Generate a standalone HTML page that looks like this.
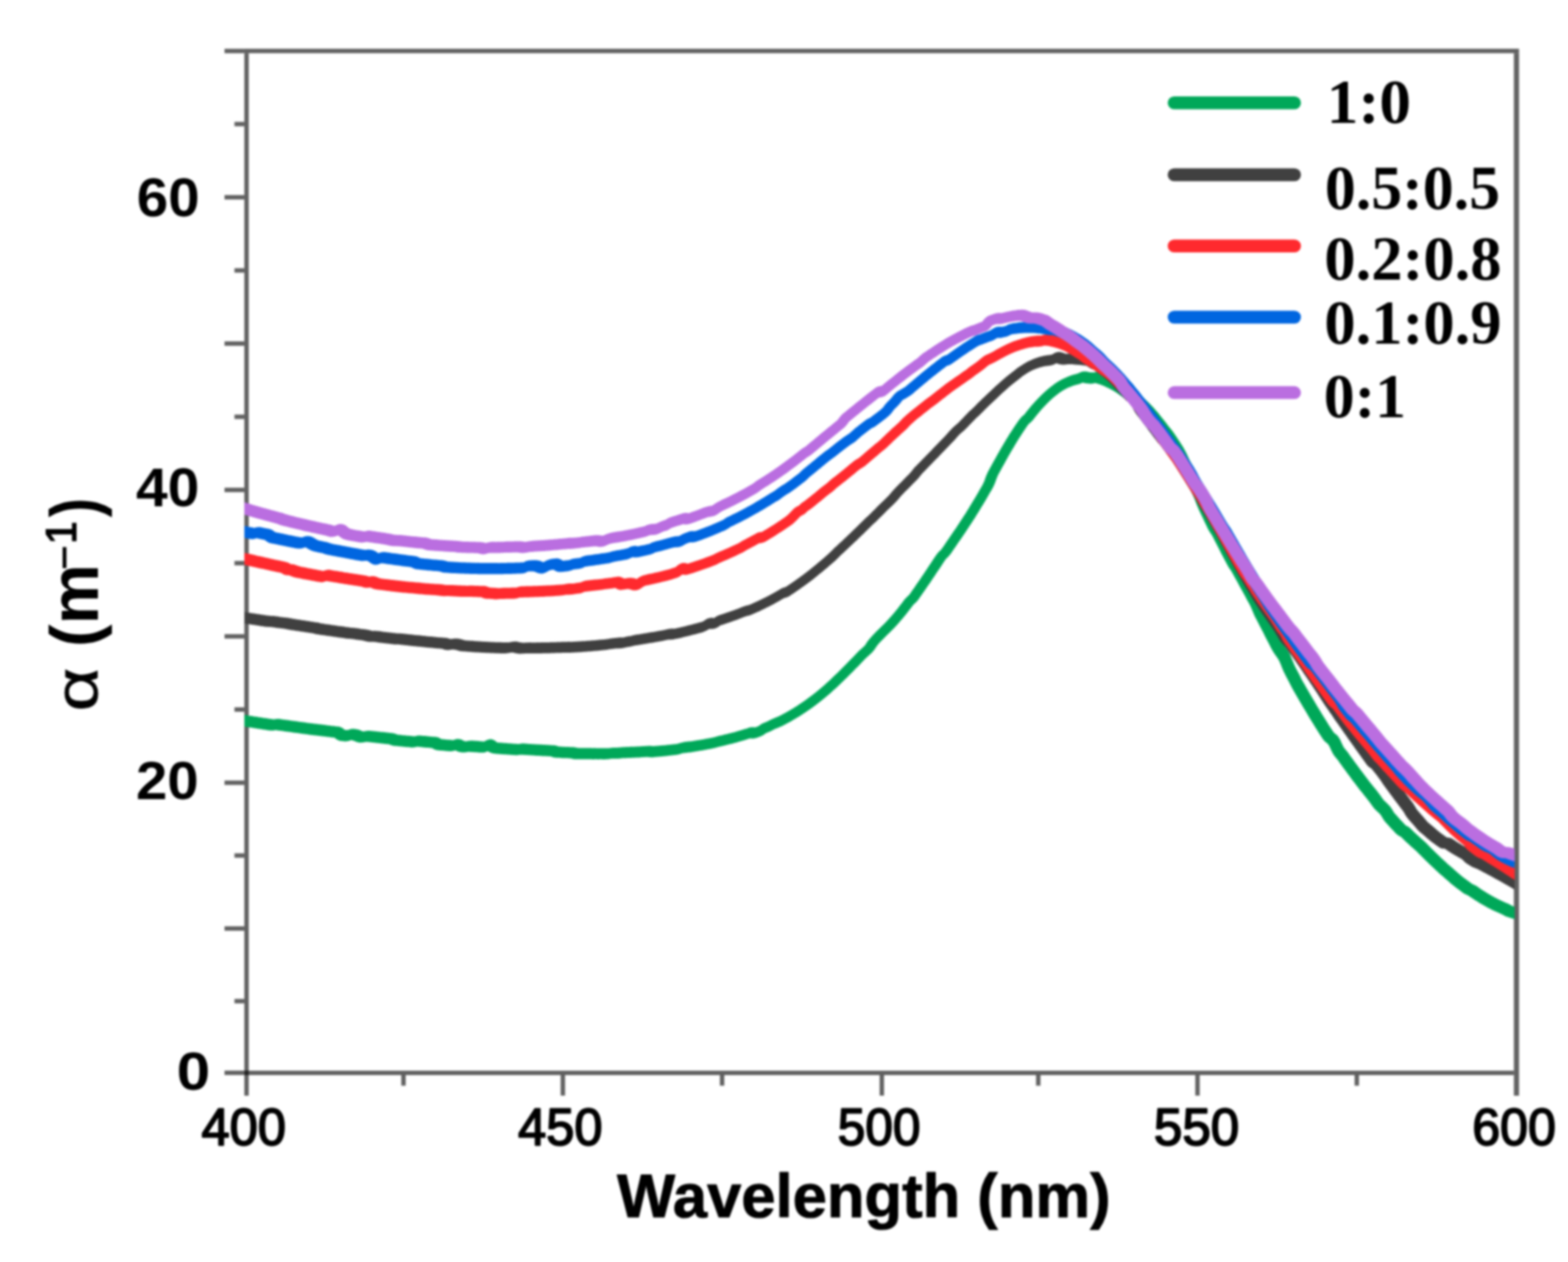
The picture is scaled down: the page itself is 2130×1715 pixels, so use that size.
<!DOCTYPE html>
<html lang="en"><head><meta charset="utf-8"><title>Absorption coefficient spectra</title>
<style>
html,body{margin:0;padding:0;background:#fff;}
body{width:2130px;height:1715px;overflow:hidden;}
svg{display:block;}
text{fill:#000;}
</style></head><body>
<svg xmlns="http://www.w3.org/2000/svg" width="2130" height="1715" viewBox="0 0 2130 1715" role="img" aria-label="Absorption coefficient versus wavelength">
<defs><clipPath id="plot"><rect x="332" y="60" width="1725.5" height="1400"/></clipPath><filter id="soft" x="-2%" y="-2%" width="104%" height="104%" color-interpolation-filters="sRGB"><feGaussianBlur stdDeviation="1.5"/></filter></defs>
<rect width="2130" height="1715" fill="#fff"/>
<g filter="url(#soft)">
<g stroke="#000" stroke-opacity="0.62" stroke-width="6.0" fill="none" stroke-linecap="butt">
<path d="M331.9,69.3 H2063.5"/>
<path d="M331.9,1457.9 H2056.5"/>
<path d="M334.9,72.3 V1488.9"/>
<path stroke-width="7" d="M2060.0,72.3 V1488.9"/>
<path d="M305,69.3 H331.9"/>
<path d="M305,1457.9 H331.9"/>
<path d="M318.5,168.6 H331.9"/>
<path d="M305,268.1 H331.9"/>
<path d="M318.5,367.5 H331.9"/>
<path d="M305,466.9 H331.9"/>
<path d="M318.5,566.4 H331.9"/>
<path d="M305,665.8 H331.9"/>
<path d="M318.5,765.3 H331.9"/>
<path d="M305,864.8 H331.9"/>
<path d="M318.5,964.2 H331.9"/>
<path d="M305,1063.7 H331.9"/>
<path d="M318.5,1162.6 H331.9"/>
<path d="M305,1261.8 H331.9"/>
<path d="M318.5,1360.5 H331.9"/>
<path d="M548.1,1460.9 V1475.4"/>
<path d="M764.6,1460.9 V1488.9"/>
<path d="M980.9,1460.9 V1475.4"/>
<path d="M1197.9,1460.9 V1488.9"/>
<path d="M1410.4,1460.9 V1475.4"/>
<path d="M1626.7,1460.9 V1488.9"/>
<path d="M1843.1,1460.9 V1475.4"/>
</g>
<g clip-path="url(#plot)" fill="none" stroke-linejoin="round" stroke-linecap="butt">
<path stroke="#00a859" stroke-width="13.6" transform="matrix(1.1553 -0.1303 -0.1303 1.1094 0 0)" d="M386.8,927.5 L388.8,928.1 L390.7,928.6 L392.7,929.1 L394.7,929.7 L396.6,930.2 L398.6,930.7 L400.6,931.3 L402.5,931.8 L404.5,932.3 L406.5,932.9 L408.4,933.4 L410.4,933.9 L412.3,934.5 L414.3,935.0 L416.3,935.5 L418.2,936.0 L420.2,936.6 L422.2,937.1 L424.1,937.6 L426.1,938.1 L428.0,938.3 L429.9,938.0 L431.8,938.1 L433.8,938.7 L435.7,939.2 L437.7,939.7 L439.7,940.2 L441.6,940.7 L443.6,941.2 L445.5,941.7 L447.5,942.2 L449.5,942.7 L451.4,943.2 L453.4,943.7 L455.3,944.2 L457.3,944.7 L459.3,945.2 L461.2,945.7 L463.2,946.2 L465.1,946.7 L467.1,947.2 L469.1,947.7 L471.0,948.2 L473.0,948.7 L474.9,949.2 L476.9,949.6 L478.9,950.1 L480.8,950.5 L482.8,951.0 L484.7,951.5 L486.7,951.9 L488.6,952.4 L490.6,952.9 L492.6,953.4 L494.5,953.9 L496.5,954.3 L498.4,954.8 L500.4,955.3 L502.3,955.7 L504.3,956.2 L506.3,957.4 L508.5,959.4 L510.5,960.6 L512.5,961.1 L514.4,961.5 L516.4,962.0 L518.3,961.8 L520.1,961.1 L522.0,960.9 L523.9,961.4 L525.9,962.0 L527.9,962.7 L529.9,963.8 L531.9,964.9 L533.9,965.6 L535.8,965.7 L537.7,965.5 L539.6,965.4 L541.5,965.6 L543.5,965.9 L545.4,966.3 L547.4,966.8 L549.3,967.2 L551.3,967.7 L553.2,968.1 L555.2,968.6 L557.2,969.0 L559.1,969.4 L561.1,969.9 L563.0,970.3 L565.0,970.8 L566.9,971.2 L568.9,971.6 L570.9,972.4 L572.9,973.4 L574.9,974.2 L576.8,974.6 L578.8,975.0 L580.7,975.5 L582.7,975.9 L584.6,976.3 L586.6,976.8 L588.5,977.2 L590.5,977.6 L592.4,978.0 L594.4,978.4 L596.4,978.9 L598.3,978.9 L600.1,978.5 L602.0,978.5 L604.0,978.9 L605.9,979.3 L607.9,979.7 L609.8,980.1 L611.8,980.6 L613.7,981.0 L615.7,981.4 L617.6,981.8 L619.6,982.2 L621.5,982.6 L623.5,983.5 L625.6,985.0 L627.6,985.9 L629.6,986.3 L631.5,986.7 L633.5,987.1 L635.4,987.5 L637.4,987.9 L639.3,988.3 L641.3,988.7 L643.2,989.0 L645.1,988.9 L646.9,988.4 L648.8,988.2 L650.8,989.0 L652.9,990.4 L654.9,991.3 L656.9,991.9 L658.8,992.3 L660.7,992.3 L662.6,992.0 L664.5,992.0 L666.4,992.4 L668.4,992.8 L670.3,993.1 L672.3,993.5 L674.2,993.9 L676.2,994.3 L678.1,994.7 L680.1,995.0 L682.0,995.1 L683.8,994.5 L685.6,993.4 L687.5,993.1 L689.5,994.3 L691.6,996.2 L693.7,997.4 L695.6,998.0 L697.6,998.5 L699.5,998.8 L701.5,999.2 L703.4,999.6 L705.4,999.9 L707.3,1000.3 L709.3,1000.7 L711.2,1001.0 L713.1,1001.4 L715.1,1001.8 L717.0,1002.1 L719.0,1002.5 L720.9,1002.9 L722.8,1003.0 L724.7,1002.8 L726.6,1002.9 L728.6,1003.3 L730.5,1003.6 L732.5,1004.0 L734.4,1004.3 L736.4,1004.7 L738.3,1005.0 L740.3,1005.4 L742.2,1005.7 L744.1,1006.1 L746.1,1006.4 L748.0,1006.7 L750.0,1007.1 L751.9,1007.4 L753.9,1007.8 L755.8,1008.1 L757.7,1008.4 L759.7,1008.8 L761.6,1009.1 L763.6,1009.4 L765.5,1010.1 L767.6,1011.1 L769.5,1011.7 L771.5,1012.0 L773.4,1012.3 L775.4,1012.7 L777.3,1013.0 L779.2,1013.3 L781.2,1013.6 L783.1,1013.9 L785.0,1014.2 L787.0,1014.5 L789.0,1015.1 L790.9,1015.8 L792.9,1016.3 L794.8,1016.5 L796.8,1016.7 L798.7,1016.9 L800.6,1017.1 L802.5,1017.3 L804.5,1017.6 L806.4,1017.9 L808.3,1018.1 L810.3,1018.4 L812.2,1018.6 L814.1,1018.9 L816.1,1019.1 L818.0,1019.3 L819.9,1019.6 L821.9,1019.8 L823.8,1020.0 L825.7,1020.3 L827.6,1020.5 L829.6,1020.7 L831.5,1020.8 L833.4,1020.7 L835.3,1020.7 L837.2,1020.9 L839.1,1021.1 L841.1,1021.3 L843.0,1021.5 L844.9,1021.5 L846.8,1021.5 L848.7,1021.6 L850.6,1021.7 L852.6,1021.9 L854.5,1022.0 L856.4,1022.2 L858.3,1022.3 L860.2,1022.5 L862.2,1022.6 L864.1,1022.7 L866.0,1022.9 L867.9,1023.0 L869.8,1023.1 L871.8,1023.2 L873.7,1023.3 L875.6,1023.4 L877.5,1023.5 L879.4,1023.8 L881.4,1024.3 L883.3,1024.6 L885.2,1024.6 L887.2,1024.7 L889.1,1024.7 L891.0,1024.8 L892.9,1024.8 L894.8,1024.9 L896.7,1024.9 L898.6,1024.9 L900.5,1025.0 L902.4,1025.0 L904.3,1025.0 L906.2,1025.0 L908.1,1025.0 L910.0,1025.0 L911.9,1024.9 L913.8,1024.7 L915.7,1024.3 L917.5,1023.9 L919.4,1023.7 L921.3,1023.7 L923.2,1023.7 L925.1,1023.7 L927.0,1023.8 L928.9,1023.7 L930.8,1023.6 L932.7,1023.5 L934.6,1023.4 L936.5,1023.3 L938.4,1023.2 L940.3,1023.1 L942.2,1023.0 L944.1,1022.8 L946.0,1022.7 L947.8,1022.5 L949.7,1022.4 L951.6,1022.2 L953.5,1022.0 L955.4,1021.8 L957.3,1021.5 L959.1,1021.1 L961.0,1020.8 L962.9,1020.6 L964.7,1020.4 L966.6,1020.1 L968.5,1019.9 L970.4,1019.6 L972.2,1019.3 L974.1,1019.1 L976.0,1018.8 L977.9,1018.5 L979.7,1018.2 L981.6,1017.8 L983.5,1017.5 L985.3,1017.1 L987.2,1016.8 L989.0,1016.4 L990.9,1016.0 L992.8,1015.6 L994.6,1015.2 L996.5,1014.7 L998.4,1014.8 L1000.4,1015.4 L1002.3,1015.5 L1004.1,1015.0 L1006.0,1014.5 L1007.8,1013.9 L1009.6,1013.1 L1011.4,1011.8 L1013.2,1010.9 L1015.0,1010.3 L1016.8,1009.7 L1018.7,1009.0 L1020.5,1008.2 L1022.3,1007.4 L1024.1,1006.7 L1026.0,1006.1 L1027.8,1005.5 L1029.6,1004.9 L1031.5,1004.2 L1033.3,1003.4 L1035.1,1002.6 L1036.9,1001.7 L1038.7,1000.9 L1040.5,1000.0 L1042.3,999.0 L1044.1,998.1 L1045.9,997.1 L1047.7,996.1 L1049.5,995.1 L1051.3,994.1 L1053.1,993.0 L1054.8,991.9 L1056.6,990.8 L1058.4,989.7 L1060.2,988.5 L1061.9,987.3 L1063.7,986.1 L1065.5,984.8 L1067.2,983.5 L1069.0,982.2 L1070.7,980.9 L1072.5,979.5 L1074.2,978.1 L1076.0,976.7 L1077.7,975.2 L1079.4,973.8 L1081.2,972.3 L1082.9,970.7 L1084.6,969.1 L1086.4,967.5 L1088.1,965.9 L1089.8,964.3 L1091.5,962.6 L1093.2,960.9 L1094.9,959.2 L1096.6,957.5 L1098.4,955.7 L1100.1,953.9 L1101.8,952.2 L1103.5,950.4 L1105.2,948.6 L1106.9,946.7 L1108.6,944.9 L1110.3,943.1 L1112.0,941.3 L1113.7,939.4 L1115.4,937.6 L1117.0,935.7 L1118.7,933.9 L1120.5,932.1 L1122.2,930.5 L1123.9,928.9 L1125.6,927.3 L1127.3,925.1 L1128.8,922.2 L1130.5,919.6 L1132.1,917.5 L1133.8,915.5 L1135.5,913.6 L1137.2,911.8 L1138.9,910.0 L1140.6,908.3 L1142.3,906.5 L1144.0,904.8 L1145.7,903.0 L1147.4,901.2 L1149.1,899.3 L1150.8,897.3 L1152.5,895.3 L1154.1,893.2 L1155.8,891.1 L1157.5,888.9 L1159.1,886.7 L1160.8,884.4 L1162.4,882.1 L1164.0,879.7 L1165.7,877.3 L1167.3,874.8 L1169.0,872.9 L1170.7,871.4 L1172.4,869.4 L1174.0,866.8 L1175.6,864.1 L1177.2,861.5 L1178.8,858.8 L1180.4,856.1 L1182.0,853.4 L1183.6,850.7 L1185.2,847.9 L1186.8,845.2 L1188.4,842.4 L1190.0,839.6 L1191.6,836.8 L1193.2,834.0 L1194.8,831.2 L1196.3,828.4 L1197.9,825.7 L1199.5,822.9 L1201.2,820.7 L1202.9,819.2 L1204.6,817.0 L1206.2,814.3 L1207.8,811.6 L1209.4,808.8 L1211.0,806.1 L1212.6,803.4 L1214.2,800.7 L1215.8,798.0 L1217.4,795.3 L1219.0,792.6 L1220.5,789.8 L1222.1,787.0 L1223.7,784.2 L1225.3,781.3 L1226.9,778.4 L1228.5,775.5 L1230.0,772.5 L1231.6,769.5 L1233.1,766.4 L1234.7,763.3 L1236.3,760.2 L1237.8,757.1 L1239.4,753.9 L1240.9,750.7 L1242.4,747.4 L1244.0,744.1 L1245.5,740.7 L1246.9,736.4 L1248.2,730.9 L1249.6,726.5 L1251.1,723.1 L1252.6,719.7 L1254.1,716.3 L1255.7,712.9 L1257.2,709.5 L1258.7,706.1 L1260.2,702.8 L1261.8,699.5 L1263.3,696.3 L1264.9,693.1 L1266.4,689.9 L1268.0,686.9 L1269.5,683.8 L1271.1,680.9 L1272.7,678.0 L1274.3,675.2 L1275.9,672.4 L1277.5,669.7 L1279.1,667.1 L1280.7,665.1 L1282.5,663.7 L1284.2,661.9 L1285.8,659.5 L1287.5,657.2 L1289.1,655.0 L1290.8,652.8 L1292.4,650.7 L1294.1,648.6 L1295.8,646.7 L1297.5,644.7 L1299.2,642.9 L1300.9,641.1 L1302.6,639.4 L1304.3,637.8 L1306.0,636.2 L1307.8,634.7 L1309.5,633.3 L1311.3,632.0 L1313.0,630.7 L1314.8,629.4 L1316.6,628.3 L1318.4,627.3 L1320.2,626.4 L1322.0,625.5 L1323.8,624.8 L1325.6,624.1 L1327.5,623.5 L1329.3,622.9 L1331.2,622.4 L1333.0,622.0 L1334.9,621.7 L1336.7,621.4 L1338.6,621.0 L1340.4,620.4 L1342.3,619.7 L1344.2,619.6 L1346.1,620.2 L1348.1,620.9 L1350.1,621.4 L1352.0,621.8 L1354.0,622.2 L1355.9,622.2 L1357.7,621.9 L1359.7,622.0 L1361.6,622.7 L1363.6,623.4 L1365.6,624.2 L1367.6,625.1 L1369.6,626.1 L1371.7,627.1 L1373.7,628.2 L1375.7,629.4 L1377.8,630.6 L1379.8,631.8 L1381.9,633.1 L1383.9,634.4 L1386.0,635.8 L1388.1,637.3 L1390.1,638.8 L1392.2,640.5 L1394.3,642.2 L1396.4,643.9 L1398.5,645.6 L1400.6,647.3 L1402.7,649.0 L1404.8,650.8 L1406.9,652.6 L1409.0,654.4 L1411.2,656.4 L1413.3,658.4 L1415.4,660.4 L1417.6,662.6 L1419.7,664.8 L1421.9,667.0 L1424.0,669.3 L1426.2,671.7 L1428.4,674.2 L1430.6,676.7 L1432.8,679.3 L1435.0,682.0 L1437.2,684.7 L1439.4,687.5 L1441.6,690.3 L1443.9,693.1 L1446.1,696.1 L1448.3,698.8 L1450.5,701.4 L1452.7,704.2 L1455.0,707.4 L1457.3,710.5 L1459.5,713.8 L1461.8,717.1 L1464.1,720.4 L1466.4,723.8 L1468.7,727.6 L1471.1,731.7 L1473.5,736.3 L1475.9,740.7 L1478.2,744.7 L1480.6,748.8 L1483.0,752.9 L1485.4,757.2 L1487.8,761.6 L1490.2,766.0 L1492.6,770.5 L1495.0,775.1 L1497.4,779.7 L1499.9,784.7 L1502.4,790.2 L1504.9,795.3 L1507.3,799.9 L1509.7,804.4 L1512.2,809.0 L1514.6,813.5 L1517.0,817.9 L1519.4,822.3 L1521.7,826.0 L1523.9,829.1 L1526.3,832.8 L1528.6,837.0 L1531.0,841.1 L1533.4,845.3 L1535.8,849.5 L1538.1,853.7 L1540.5,857.8 L1542.9,861.9 L1545.2,865.9 L1547.6,869.9 L1549.9,873.5 L1552.2,876.6 L1554.5,880.2 L1556.8,884.1 L1559.1,887.9 L1561.5,891.8 L1563.8,895.7 L1566.2,899.6 L1568.5,903.5 L1570.9,907.4 L1573.2,911.3 L1575.5,915.2 L1577.9,919.2 L1580.3,923.1 L1582.7,927.8 L1585.2,933.0 L1587.6,937.7 L1590.0,941.8 L1592.3,945.9 L1594.7,950.0 L1597.1,954.2 L1599.5,958.3 L1601.8,962.5 L1604.2,966.7 L1606.6,970.8 L1609.0,975.0 L1611.3,979.1 L1613.7,983.0 L1616.0,986.4 L1618.2,989.3 L1620.4,992.3 L1622.8,996.1 L1625.2,1001.0 L1627.7,1006.3 L1630.2,1011.2 L1632.6,1015.5 L1634.9,1019.4 L1637.3,1023.5 L1639.7,1027.8 L1642.0,1031.8 L1644.4,1035.6 L1646.7,1039.3 L1649.0,1043.0 L1651.3,1046.7 L1653.6,1050.4 L1656.0,1054.1 L1658.3,1057.7 L1660.6,1061.3 L1662.9,1064.9 L1665.2,1068.5 L1667.5,1072.0 L1669.8,1075.5 L1672.1,1079.0 L1674.4,1082.5 L1676.7,1085.9 L1679.0,1089.4 L1681.3,1092.8 L1683.6,1096.1 L1685.8,1099.2 L1688.0,1101.7 L1690.1,1103.5 L1692.2,1105.6 L1694.6,1109.2 L1697.0,1113.9 L1699.4,1118.3 L1701.7,1121.6 L1703.8,1124.1 L1706.1,1126.8 L1708.3,1129.9 L1710.6,1132.9 L1712.8,1135.9 L1715.0,1138.8 L1717.3,1141.8 L1719.5,1144.8 L1721.8,1147.8 L1724.0,1150.7 L1726.2,1153.6 L1728.5,1156.5 L1730.7,1159.4 L1732.9,1162.2 L1735.1,1165.1 L1737.3,1167.9 L1739.6,1170.6 L1741.8,1173.4 L1744.0,1176.1 L1746.2,1178.8 L1748.4,1181.6 L1750.7,1184.6 L1752.9,1187.7 L1755.2,1190.7 L1757.3,1193.1 L1759.5,1195.2 L1761.6,1197.3 L1763.8,1199.6 L1766.0,1202.6 L1768.3,1206.3 L1770.6,1209.4 L1772.8,1211.8 L1775.0,1214.3 L1777.1,1216.7 L1779.3,1219.1 L1781.5,1221.4 L1783.6,1223.8 L1785.8,1226.1 L1787.9,1227.9 L1790.0,1229.0 L1792.0,1230.7 L1794.2,1233.0 L1796.4,1235.3 L1798.5,1237.4 L1800.7,1239.5 L1802.8,1241.5 L1804.9,1243.6 L1807.1,1245.6 L1809.2,1247.6 L1811.3,1249.6 L1813.5,1251.8 L1815.6,1254.1 L1817.8,1256.3 L1819.9,1258.6 L1822.1,1260.8 L1824.2,1263.0 L1826.4,1265.2 L1828.5,1267.3 L1830.7,1269.5 L1832.8,1271.7 L1835.0,1273.8 L1837.1,1275.9 L1839.3,1278.0 L1841.4,1280.1 L1843.5,1282.1 L1845.7,1284.0 L1847.8,1286.0 L1849.9,1288.0 L1852.0,1289.9 L1854.2,1292.0 L1856.3,1294.0 L1858.4,1295.9 L1860.6,1297.8 L1862.7,1299.7 L1864.8,1301.4 L1866.9,1303.1 L1869.0,1304.8 L1871.1,1306.5 L1873.2,1308.3 L1875.2,1309.6 L1877.2,1310.7 L1879.3,1312.0 L1881.4,1313.6 L1883.5,1315.2 L1885.5,1316.8 L1887.6,1318.3 L1889.7,1319.8 L1891.8,1321.3 L1893.8,1322.8 L1895.9,1324.2 L1898.0,1325.6 L1900.0,1326.9 L1902.1,1328.3 L1904.1,1329.6 L1906.2,1330.8 L1908.2,1332.1 L1910.3,1333.3 L1912.3,1334.5 L1914.3,1335.6 L1916.4,1336.7 L1918.4,1337.8 L1920.4,1338.9 L1922.4,1340.1 L1924.5,1341.5 L1926.5,1342.7 L1928.6,1343.6 L1930.6,1344.5 L1932.6,1345.3 L1934.6,1346.1 L1936.5,1346.9 L1938.5,1347.6"/>
<path stroke="#404040" stroke-width="13" transform="matrix(1.1896 -0.1591 -0.1591 1.1335 0 0)" d="M380.1,793.2 L382.0,793.8 L384.0,794.3 L385.9,794.9 L387.8,795.5 L389.7,796.0 L391.7,796.6 L393.6,797.1 L395.5,797.7 L397.4,798.3 L399.4,798.8 L401.3,799.4 L403.2,800.0 L405.1,800.5 L407.1,801.1 L409.0,801.7 L410.9,802.2 L412.8,802.8 L414.7,803.2 L416.6,803.4 L418.5,803.8 L420.4,804.3 L422.4,804.9 L424.3,805.5 L426.2,806.0 L428.1,806.6 L430.1,807.1 L432.0,807.6 L433.9,808.1 L435.8,808.6 L437.7,809.2 L439.7,809.9 L441.6,810.5 L443.5,811.1 L445.5,811.7 L447.4,812.2 L449.3,812.8 L451.2,813.4 L453.2,813.9 L455.1,814.5 L457.0,815.1 L458.9,815.6 L460.9,816.2 L462.8,816.7 L464.7,817.3 L466.6,817.9 L468.6,818.4 L470.5,819.1 L472.5,819.9 L474.4,820.6 L476.3,821.1 L478.2,821.7 L480.2,822.2 L482.1,822.8 L484.0,823.3 L485.9,823.9 L487.9,824.4 L489.8,825.0 L491.7,825.5 L493.6,826.1 L495.6,826.6 L497.5,827.2 L499.4,827.7 L501.3,828.2 L503.2,828.8 L505.2,829.3 L507.1,829.9 L509.0,830.4 L510.9,830.9 L512.8,831.3 L514.7,831.8 L516.7,832.3 L518.6,832.8 L520.5,833.4 L522.4,833.9 L524.3,834.4 L526.3,834.9 L528.2,835.5 L530.1,836.1 L532.1,837.0 L534.0,837.7 L535.9,838.2 L537.8,838.4 L539.7,838.7 L541.6,839.1 L543.5,839.6 L545.4,840.1 L547.4,840.7 L549.3,841.2 L551.2,841.7 L553.1,842.2 L555.0,842.7 L556.9,843.2 L558.9,843.7 L560.8,844.2 L562.7,844.7 L564.6,845.2 L566.5,845.5 L568.4,845.8 L570.3,846.1 L572.2,846.6 L574.1,847.1 L576.0,847.6 L577.9,848.1 L579.9,848.6 L581.8,849.0 L583.7,849.5 L585.6,850.0 L587.5,850.5 L589.4,850.9 L591.3,851.4 L593.2,851.9 L595.2,852.3 L597.1,852.8 L599.0,853.3 L600.9,853.7 L602.8,854.2 L604.7,854.6 L606.6,855.1 L608.5,855.5 L610.4,856.0 L612.3,856.4 L614.3,856.9 L616.2,857.3 L618.1,857.7 L620.0,858.2 L621.9,858.6 L623.8,859.3 L625.8,860.3 L627.7,860.9 L629.6,861.0 L631.4,861.0 L633.3,860.9 L635.2,861.2 L637.1,861.8 L639.1,862.6 L641.0,863.4 L643.0,864.2 L644.9,864.7 L646.8,865.2 L648.7,865.6 L650.6,866.0 L652.5,866.4 L654.4,866.7 L656.3,867.2 L658.2,867.6 L660.1,868.1 L662.0,868.4 L663.9,868.8 L665.8,869.2 L667.7,869.5 L669.6,869.9 L671.5,870.3 L673.4,870.6 L675.3,871.0 L677.2,871.3 L679.1,871.7 L681.0,872.0 L682.9,872.3 L684.8,872.7 L686.7,873.0 L688.6,873.3 L690.5,873.7 L692.4,874.0 L694.3,874.3 L696.1,874.5 L698.0,874.5 L699.8,874.4 L701.7,874.3 L703.5,874.4 L705.4,874.9 L707.4,875.6 L709.3,876.3 L711.2,876.9 L713.2,877.3 L715.0,877.5 L716.9,877.6 L718.8,877.8 L720.7,878.0 L722.5,878.3 L724.4,878.6 L726.3,878.8 L728.2,879.1 L730.1,879.3 L732.0,879.6 L733.8,879.8 L735.7,880.1 L737.6,880.3 L739.5,880.5 L741.4,880.8 L743.2,881.0 L745.1,881.2 L747.0,881.4 L748.9,881.6 L750.8,881.8 L752.6,882.0 L754.5,882.2 L756.4,882.4 L758.3,882.6 L760.1,882.8 L762.0,883.0 L763.9,883.2 L765.8,883.4 L767.7,883.8 L769.5,884.0 L771.4,884.2 L773.3,884.4 L775.2,884.5 L777.0,884.7 L778.9,884.8 L780.8,884.9 L782.6,885.1 L784.5,885.2 L786.4,885.3 L788.2,885.4 L790.1,885.6 L792.0,885.7 L793.8,885.8 L795.7,885.9 L797.5,886.0 L799.4,886.1 L801.3,886.2 L803.1,886.2 L805.0,886.3 L806.8,886.4 L808.7,886.5 L810.6,886.5 L812.4,886.5 L814.2,886.4 L816.1,886.4 L817.9,886.4 L819.8,886.4 L821.7,886.5 L823.5,886.6 L825.4,886.7 L827.3,887.0 L829.1,887.1 L831.0,887.0 L832.8,886.8 L834.6,886.6 L836.5,886.6 L838.3,886.6 L840.1,886.4 L841.9,886.1 L843.8,885.9 L845.6,885.9 L847.5,885.9 L849.3,885.8 L851.1,885.8 L853.0,885.7 L854.8,885.7 L856.7,885.6 L858.5,885.5 L860.3,885.4 L862.2,885.4 L864.0,885.4 L865.9,885.3 L867.7,885.2 L869.6,885.1 L871.4,885.0 L873.2,884.9 L875.1,884.8 L876.9,884.6 L878.7,884.5 L880.5,884.3 L882.4,884.2 L884.2,884.3 L886.1,884.7 L888.0,884.8 L889.8,884.6 L891.7,884.4 L893.5,884.3 L895.3,884.1 L897.1,883.9 L898.9,883.7 L900.8,883.5 L902.6,883.2 L904.4,883.0 L906.2,882.8 L908.0,882.5 L909.9,882.3 L911.7,882.0 L913.5,881.8 L915.3,881.5 L917.1,881.3 L918.9,881.0 L920.7,880.6 L922.5,880.0 L924.2,879.0 L925.9,877.9 L927.7,877.5 L929.6,877.8 L931.5,878.3 L933.4,878.4 L935.1,877.7 L936.8,876.4 L938.5,875.5 L940.3,875.2 L942.1,874.8 L943.9,874.4 L945.7,874.0 L947.5,873.6 L949.3,873.2 L951.1,872.8 L952.9,872.4 L954.7,871.9 L956.5,871.5 L958.3,871.0 L960.1,870.5 L961.9,870.0 L963.6,869.5 L965.4,869.0 L967.2,868.5 L969.0,868.2 L970.8,868.1 L972.6,867.7 L974.4,867.1 L976.2,866.5 L977.9,865.9 L979.7,865.3 L981.5,864.7 L983.2,864.0 L985.0,863.3 L986.8,862.6 L988.5,861.9 L990.3,861.2 L992.0,860.4 L993.8,859.7 L995.5,858.9 L997.2,858.1 L999.0,857.3 L1000.7,856.4 L1002.5,855.6 L1004.2,854.7 L1005.9,853.8 L1007.6,852.9 L1009.4,852.3 L1011.2,852.1 L1013.0,851.5 L1014.7,850.4 L1016.4,849.4 L1018.1,848.4 L1019.8,847.3 L1021.5,846.2 L1023.2,845.1 L1024.9,843.9 L1026.6,842.8 L1028.3,841.6 L1030.0,840.4 L1031.7,839.2 L1033.4,838.0 L1035.1,836.7 L1036.8,835.5 L1038.4,834.2 L1040.1,832.9 L1041.8,831.5 L1043.4,830.2 L1045.1,828.8 L1046.8,827.5 L1048.4,826.1 L1050.1,824.7 L1051.8,823.3 L1053.4,821.8 L1055.1,820.4 L1056.7,818.9 L1058.4,817.5 L1060.0,816.0 L1061.7,814.3 L1063.3,812.4 L1064.9,810.7 L1066.5,809.2 L1068.2,807.7 L1069.8,806.1 L1071.5,804.5 L1073.1,802.9 L1074.7,801.3 L1076.4,799.7 L1078.0,798.1 L1079.6,796.5 L1081.3,794.9 L1082.9,793.2 L1084.5,791.6 L1086.1,789.9 L1087.8,788.3 L1089.4,786.6 L1091.0,784.9 L1092.6,783.2 L1094.3,781.5 L1095.9,779.8 L1097.5,778.2 L1099.2,776.7 L1100.8,775.1 L1102.4,773.4 L1104.0,771.7 L1105.7,770.0 L1107.3,768.2 L1108.9,766.5 L1110.5,764.8 L1112.1,763.1 L1113.8,761.5 L1115.4,759.9 L1117.0,758.2 L1118.7,756.5 L1120.3,754.8 L1121.9,752.7 L1123.4,750.6 L1125.0,748.7 L1126.6,746.8 L1128.2,745.0 L1129.8,743.3 L1131.5,741.6 L1133.1,739.8 L1134.7,738.1 L1136.3,736.3 L1137.9,734.6 L1139.5,732.9 L1141.2,731.1 L1142.7,729.1 L1144.3,726.7 L1145.8,724.7 L1147.5,722.9 L1149.1,721.2 L1150.7,719.4 L1152.3,717.6 L1153.9,715.9 L1155.5,714.1 L1157.1,712.3 L1158.8,710.5 L1160.4,708.8 L1162.0,707.0 L1163.6,705.2 L1165.2,703.4 L1166.8,701.6 L1168.4,699.9 L1170.0,698.1 L1171.6,696.3 L1173.2,694.5 L1174.9,692.7 L1176.5,690.9 L1178.1,689.0 L1179.6,687.0 L1181.2,685.1 L1182.8,683.3 L1184.5,681.6 L1186.1,680.2 L1187.8,678.8 L1189.4,677.2 L1191.0,675.4 L1192.6,673.6 L1194.3,671.8 L1195.9,670.0 L1197.5,668.2 L1199.1,666.4 L1200.7,664.8 L1202.4,663.3 L1204.0,661.7 L1205.6,660.0 L1207.2,658.2 L1208.9,656.5 L1210.5,654.8 L1212.1,653.2 L1213.7,651.5 L1215.4,649.9 L1217.0,648.3 L1218.6,646.7 L1220.3,645.2 L1221.9,643.5 L1223.5,641.9 L1225.2,640.3 L1226.8,638.7 L1228.5,637.2 L1230.1,635.7 L1231.8,634.2 L1233.4,632.7 L1235.1,631.3 L1236.7,629.9 L1238.4,628.6 L1240.1,627.3 L1241.8,626.0 L1243.4,624.8 L1245.1,623.5 L1246.8,622.1 L1248.5,620.8 L1250.2,619.8 L1251.9,618.8 L1253.6,617.8 L1255.3,616.9 L1257.1,616.0 L1258.8,615.2 L1260.6,614.6 L1262.4,614.0 L1264.1,613.5 L1265.9,613.1 L1267.7,612.7 L1269.5,612.3 L1271.3,612.1 L1273.2,611.8 L1275.0,611.7 L1276.8,611.6 L1278.7,611.6 L1280.5,611.6 L1282.4,611.7 L1284.2,611.3 L1285.9,610.5 L1287.6,609.5 L1289.5,609.4 L1291.4,610.3 L1293.4,611.4 L1295.4,612.3 L1297.3,612.8 L1299.2,613.0 L1301.1,613.0 L1302.9,613.1 L1304.8,613.2 L1306.6,613.4 L1308.5,613.7 L1310.5,614.3 L1312.4,614.8 L1314.3,615.2 L1316.2,615.6 L1318.1,616.1 L1320.0,616.5 L1321.9,617.0 L1323.8,617.5 L1325.8,618.0 L1327.7,619.0 L1329.8,620.5 L1331.9,622.1 L1333.9,623.4 L1335.9,624.4 L1337.9,625.8 L1340.0,627.6 L1342.1,629.5 L1344.2,631.4 L1346.3,633.2 L1348.4,634.9 L1350.5,636.7 L1352.6,638.6 L1354.7,640.6 L1356.8,642.7 L1359.0,644.9 L1361.1,647.1 L1363.3,649.5 L1365.4,651.9 L1367.6,654.4 L1369.8,656.9 L1372.0,659.1 L1374.1,661.4 L1376.3,663.7 L1378.5,666.3 L1380.6,668.7 L1382.6,669.8 L1384.6,670.7 L1386.8,673.5 L1389.3,677.9 L1391.7,682.4 L1394.0,686.0 L1396.3,689.0 L1398.5,691.8 L1400.8,694.7 L1403.0,697.7 L1405.2,700.6 L1407.5,703.4 L1409.7,706.2 L1411.9,709.1 L1414.2,712.0 L1416.4,714.9 L1418.6,717.8 L1420.9,720.7 L1423.1,723.6 L1425.3,726.3 L1427.5,728.7 L1429.7,731.3 L1431.9,734.3 L1434.2,737.3 L1436.4,740.3 L1438.7,743.2 L1440.9,746.2 L1443.2,749.2 L1445.4,752.2 L1447.7,755.6 L1450.0,759.0 L1452.3,762.4 L1454.6,765.8 L1456.9,769.2 L1459.3,772.6 L1461.6,776.1 L1463.9,779.5 L1466.2,783.0 L1468.5,786.5 L1470.8,790.0 L1473.1,793.5 L1475.5,797.0 L1477.8,800.5 L1480.1,804.4 L1482.5,808.5 L1484.9,812.3 L1487.2,815.9 L1489.6,819.4 L1491.9,823.1 L1494.2,826.7 L1496.6,830.4 L1498.9,834.1 L1501.3,837.8 L1503.6,841.5 L1505.9,845.2 L1508.3,848.9 L1510.7,852.8 L1513.0,856.7 L1515.4,860.7 L1517.8,864.6 L1520.2,868.5 L1522.5,872.4 L1524.9,876.3 L1527.3,880.1 L1529.6,884.0 L1532.0,887.8 L1534.3,891.6 L1536.7,895.4 L1539.1,899.1 L1541.4,902.9 L1543.7,906.5 L1546.1,910.2 L1548.4,913.8 L1550.7,917.4 L1553.1,920.9 L1555.4,924.4 L1557.7,927.9 L1560.0,931.4 L1562.4,935.1 L1564.7,938.6 L1567.0,941.8 L1569.2,945.0 L1571.5,948.2 L1573.8,951.4 L1576.0,954.5 L1578.3,957.6 L1580.6,960.7 L1582.8,963.8 L1585.1,966.9 L1587.4,970.0 L1589.6,973.1 L1591.9,976.3 L1594.2,979.8 L1596.6,983.5 L1598.9,987.2 L1601.2,990.2 L1603.4,992.8 L1605.5,995.3 L1607.8,998.1 L1610.0,1001.1 L1612.3,1004.0 L1614.5,1006.8 L1616.7,1009.7 L1619.0,1012.9 L1621.3,1016.0 L1623.5,1019.2 L1625.8,1022.3 L1628.1,1025.5 L1630.4,1028.7 L1632.6,1031.9 L1634.9,1035.1 L1637.2,1038.3 L1639.5,1041.5 L1641.7,1044.7 L1644.0,1047.9 L1646.3,1051.1 L1648.6,1054.3 L1650.8,1057.5 L1653.1,1060.8 L1655.5,1064.4 L1657.8,1067.7 L1660.0,1070.9 L1662.3,1074.1 L1664.6,1077.3 L1666.9,1080.4 L1669.1,1083.6 L1671.4,1086.7 L1673.7,1089.9 L1675.9,1093.0 L1678.2,1096.1 L1680.5,1099.2 L1682.7,1102.3 L1685.0,1105.4 L1687.3,1108.5 L1689.5,1111.6 L1691.8,1114.6 L1694.0,1117.7 L1696.3,1120.8 L1698.6,1123.8 L1700.8,1126.9 L1703.1,1129.9 L1705.3,1133.0 L1707.6,1136.0 L1709.8,1139.0 L1712.1,1142.0 L1714.3,1145.1 L1716.6,1148.1 L1718.8,1151.1 L1721.1,1154.1 L1723.2,1156.3 L1725.3,1157.6 L1727.4,1159.8 L1729.6,1162.6 L1731.9,1165.4 L1734.1,1168.2 L1736.3,1171.1 L1738.6,1174.0 L1740.8,1177.1 L1743.1,1180.4 L1745.4,1183.5 L1747.6,1186.5 L1749.9,1189.4 L1752.1,1192.4 L1754.3,1195.3 L1756.6,1198.2 L1758.8,1201.2 L1761.1,1204.1 L1763.3,1207.0 L1765.5,1209.8 L1767.8,1212.7 L1770.0,1215.5 L1772.3,1218.8 L1774.6,1222.5 L1776.9,1225.6 L1779.1,1228.2 L1781.3,1230.7 L1783.5,1233.2 L1785.6,1235.7 L1787.9,1238.4 L1790.1,1241.0 L1792.2,1243.3 L1794.3,1245.1 L1796.4,1247.0 L1798.5,1248.9 L1800.6,1250.9 L1802.7,1252.9 L1804.8,1254.8 L1806.9,1256.7 L1809.0,1258.5 L1811.1,1260.2 L1813.2,1262.0 L1815.3,1263.6 L1817.3,1265.3 L1819.3,1266.3 L1821.2,1266.4 L1823.1,1267.2 L1825.2,1268.8 L1827.3,1270.4 L1829.3,1272.0 L1831.4,1273.5 L1833.4,1275.0 L1835.5,1276.4 L1837.5,1277.9 L1839.6,1279.3 L1841.6,1280.7 L1843.6,1282.0 L1845.6,1283.3 L1847.7,1285.2 L1849.9,1287.7 L1852.0,1289.6 L1854.1,1291.1 L1856.1,1292.6 L1858.2,1294.1 L1860.2,1295.2 L1862.2,1296.2 L1864.2,1297.3 L1866.2,1298.5 L1868.2,1299.8 L1870.2,1301.1 L1872.2,1302.4 L1874.3,1303.8 L1876.3,1305.1 L1878.3,1306.4 L1880.3,1307.7 L1882.4,1309.1 L1884.4,1310.4 L1886.4,1311.7 L1888.5,1313.1 L1890.5,1314.4 L1892.5,1315.8 L1894.5,1317.1 L1896.6,1318.5 L1898.6,1319.9 L1900.6,1321.3 L1902.7,1322.7 L1904.7,1324.1 L1906.8,1325.5 L1908.8,1326.9 L1910.8,1328.3 L1912.9,1329.6"/>
<path stroke="#ff2a2e" stroke-width="13.6" transform="matrix(1.1553 -0.1303 -0.1303 1.1094 0 0)" d="M364.1,726.0 L366.1,726.7 L368.0,727.4 L370.0,728.1 L372.0,728.8 L374.0,729.4 L376.0,730.1 L377.9,730.8 L379.9,731.5 L381.9,732.2 L383.9,732.9 L385.9,733.5 L387.9,734.2 L389.8,734.9 L391.8,735.6 L393.8,736.2 L395.8,736.9 L397.8,737.6 L399.7,738.2 L401.7,738.9 L403.7,739.6 L405.7,740.2 L407.6,740.9 L409.6,741.5 L411.6,742.2 L413.6,742.8 L415.6,743.5 L417.5,744.1 L419.6,745.2 L421.6,746.8 L423.6,747.6 L425.6,747.9 L427.5,748.4 L429.5,749.4 L431.6,750.4 L433.6,751.3 L435.6,752.0 L437.5,752.6 L439.5,753.2 L441.5,753.8 L443.5,754.5 L445.4,755.1 L447.4,755.7 L449.4,756.3 L451.3,756.9 L453.3,757.5 L455.3,758.1 L457.3,758.7 L459.2,759.3 L461.2,759.9 L463.2,760.4 L465.1,761.0 L467.0,760.9 L468.8,760.1 L470.7,760.0 L472.7,760.6 L474.7,761.2 L476.6,761.8 L478.6,762.3 L480.6,762.8 L482.5,763.4 L484.5,763.9 L486.5,764.5 L488.4,765.1 L490.4,765.6 L492.4,766.1 L494.3,766.7 L496.3,767.2 L498.3,767.8 L500.2,768.3 L502.2,768.8 L504.2,769.4 L506.1,769.9 L508.1,770.4 L510.1,771.0 L512.0,771.5 L514.0,772.0 L516.0,772.8 L518.0,773.8 L520.0,774.3 L521.8,774.2 L523.7,774.1 L525.7,774.6 L527.7,775.6 L529.8,776.8 L531.7,777.5 L533.7,778.1 L535.7,778.6 L537.6,779.1 L539.6,779.5 L541.5,780.0 L543.5,780.5 L545.5,781.0 L547.4,781.4 L549.4,781.9 L551.3,782.4 L553.3,782.8 L555.2,783.3 L557.2,783.7 L559.2,784.2 L561.1,784.6 L563.1,785.1 L565.0,785.5 L567.0,785.9 L568.9,786.3 L570.9,786.7 L572.8,787.1 L574.8,787.5 L576.7,787.9 L578.7,788.3 L580.6,788.7 L582.6,789.2 L584.5,789.6 L586.5,790.0 L588.4,790.4 L590.4,790.8 L592.3,791.2 L594.3,791.6 L596.2,791.9 L598.2,792.3 L600.1,792.7 L602.0,792.9 L604.0,793.3 L605.9,793.7 L607.9,794.2 L609.9,794.7 L611.8,795.2 L613.8,795.5 L615.7,795.7 L617.6,795.9 L619.5,796.1 L621.5,796.5 L623.4,796.8 L625.4,797.2 L627.3,797.5 L629.2,797.8 L631.2,798.2 L633.1,798.5 L635.1,798.8 L637.0,799.1 L638.9,799.3 L640.8,799.4 L642.8,799.6 L644.7,799.9 L646.7,800.2 L648.6,800.5 L650.5,800.8 L652.5,801.1 L654.4,801.4 L656.3,801.6 L658.3,801.9 L660.3,802.7 L662.3,803.9 L664.3,804.6 L666.2,804.9 L668.2,805.2 L670.1,805.5 L672.1,805.9 L674.0,806.4 L675.9,806.7 L677.9,806.8 L679.8,806.8 L681.7,806.9 L683.6,807.1 L685.5,807.3 L687.5,807.5 L689.4,807.7 L691.3,807.9 L693.2,808.1 L695.2,808.3 L697.1,808.5 L699.0,808.4 L700.8,807.8 L702.7,807.6 L704.6,807.8 L706.6,808.0 L708.5,808.1 L710.4,808.3 L712.3,808.5 L714.3,808.7 L716.2,808.8 L718.1,809.0 L720.0,809.1 L721.9,809.3 L723.9,809.4 L725.8,809.6 L727.7,809.7 L729.6,809.9 L731.5,810.0 L733.5,810.1 L735.4,810.2 L737.3,810.4 L739.2,810.5 L741.1,810.6 L743.0,810.7 L745.0,810.8 L746.9,810.9 L748.8,811.0 L750.7,811.1 L752.6,811.1 L754.5,811.1 L756.4,810.8 L758.3,810.8 L760.2,810.9 L762.1,811.1 L764.1,811.3 L766.0,811.3 L767.9,811.2 L769.8,811.1 L771.7,811.1 L773.6,811.1 L775.4,810.7 L777.2,810.0 L779.1,809.6 L781.0,809.6 L782.9,809.6 L784.8,809.6 L786.7,809.6 L788.6,809.6 L790.5,809.6 L792.4,809.6 L794.3,809.6 L796.2,809.6 L798.1,809.6 L800.0,809.6 L801.9,809.5 L803.8,809.5 L805.7,809.5 L807.6,809.4 L809.5,809.4 L811.4,809.3 L813.3,809.3 L815.2,809.2 L817.1,809.1 L819.1,810.0 L821.2,811.7 L823.2,812.5 L825.1,812.4 L827.0,812.3 L828.9,812.2 L830.8,812.2 L832.7,812.5 L834.7,813.1 L836.7,814.0 L838.7,814.8 L840.6,815.0 L842.5,814.3 L844.2,813.2 L846.0,812.0 L847.8,811.2 L849.7,810.8 L851.6,810.5 L853.4,810.3 L855.3,810.1 L857.2,809.9 L859.1,809.7 L861.0,809.4 L862.8,809.2 L864.7,809.0 L866.6,808.8 L868.5,808.5 L870.4,808.2 L872.2,808.0 L874.1,807.7 L876.0,807.4 L877.8,807.1 L879.7,806.8 L881.6,806.3 L883.4,805.8 L885.3,805.5 L887.1,804.9 L888.9,803.7 L890.6,802.1 L892.4,801.2 L894.4,801.7 L896.4,802.5 L898.3,802.8 L900.2,802.6 L902.0,802.2 L903.9,801.8 L905.8,801.4 L907.6,800.9 L909.5,800.5 L911.3,800.0 L913.2,799.6 L915.0,799.1 L916.9,798.6 L918.7,798.1 L920.6,797.6 L922.4,797.1 L924.3,796.6 L926.1,796.0 L927.9,795.5 L929.8,794.9 L931.6,794.2 L933.4,793.3 L935.2,792.6 L937.1,792.0 L938.9,791.3 L940.7,790.7 L942.6,790.1 L944.4,789.4 L946.2,788.8 L948.1,788.1 L949.9,787.4 L951.7,786.7 L953.5,786.0 L955.4,785.2 L957.2,784.5 L959.0,783.8 L960.8,782.9 L962.6,781.8 L964.4,780.9 L966.2,780.1 L968.0,779.3 L969.8,778.4 L971.6,777.6 L973.4,776.7 L975.2,775.9 L977.0,775.0 L978.8,774.1 L980.7,773.7 L982.6,773.9 L984.5,773.5 L986.3,772.6 L988.1,771.6 L989.9,770.6 L991.7,769.6 L993.5,768.6 L995.3,767.6 L997.0,766.6 L998.8,765.5 L1000.6,764.4 L1002.4,763.4 L1004.2,762.3 L1006.0,761.2 L1007.7,760.0 L1009.5,758.9 L1011.3,757.7 L1013.0,756.5 L1014.8,755.1 L1016.5,753.5 L1018.2,751.6 L1019.9,749.6 L1021.6,747.8 L1023.3,746.6 L1025.2,745.8 L1027.0,744.8 L1028.7,743.1 L1030.4,741.7 L1032.2,740.6 L1034.0,739.3 L1035.7,738.0 L1037.5,736.6 L1039.2,735.2 L1040.9,733.8 L1042.7,732.4 L1044.4,731.0 L1046.2,729.5 L1047.9,728.1 L1049.7,726.6 L1051.4,725.2 L1053.2,723.9 L1054.9,722.6 L1056.7,721.4 L1058.4,719.9 L1060.1,718.2 L1061.9,716.7 L1063.6,715.4 L1065.4,714.0 L1067.1,712.7 L1068.9,711.3 L1070.6,710.0 L1072.4,708.6 L1074.1,707.2 L1075.9,705.8 L1077.6,704.4 L1079.4,702.9 L1081.1,701.5 L1082.8,700.1 L1084.6,698.6 L1086.3,697.2 L1088.1,696.1 L1089.9,695.3 L1091.7,694.2 L1093.4,692.7 L1095.2,691.2 L1096.9,689.7 L1098.6,688.2 L1100.4,686.7 L1102.1,685.2 L1103.9,683.7 L1105.6,682.3 L1107.3,680.8 L1109.1,679.3 L1110.8,677.9 L1112.6,676.5 L1114.3,675.1 L1116.0,673.4 L1117.7,671.7 L1119.4,670.0 L1121.1,668.2 L1122.9,666.5 L1124.6,664.9 L1126.3,663.2 L1128.0,661.6 L1129.7,660.0 L1131.5,658.4 L1133.2,656.8 L1134.9,655.3 L1136.6,653.5 L1138.3,651.4 L1140.0,649.6 L1141.7,648.1 L1143.4,646.5 L1145.2,644.9 L1146.9,643.5 L1148.7,642.1 L1150.4,640.8 L1152.2,639.4 L1153.9,638.0 L1155.7,636.6 L1157.4,635.3 L1159.2,633.9 L1160.9,632.5 L1162.7,631.1 L1164.4,629.9 L1166.2,628.7 L1168.0,627.4 L1169.7,626.1 L1171.5,624.7 L1173.2,623.4 L1175.0,622.0 L1176.7,620.7 L1178.5,619.4 L1180.2,618.0 L1182.0,616.7 L1183.7,615.3 L1185.5,614.0 L1187.3,612.8 L1189.0,611.6 L1190.8,610.5 L1192.6,609.3 L1194.3,608.1 L1196.1,607.0 L1197.9,605.8 L1199.7,604.6 L1201.4,603.4 L1203.2,602.2 L1205.0,601.1 L1206.7,599.9 L1208.5,598.6 L1210.2,597.2 L1212.0,595.9 L1213.8,594.8 L1215.6,593.6 L1217.3,592.4 L1219.1,591.1 L1220.8,589.7 L1222.6,588.2 L1224.3,586.8 L1226.1,585.6 L1227.9,584.7 L1229.7,584.1 L1231.5,583.4 L1233.4,582.6 L1235.2,581.8 L1237.0,580.9 L1238.8,579.9 L1240.6,579.0 L1242.4,578.2 L1244.2,577.3 L1246.0,576.5 L1247.8,575.7 L1249.6,575.0 L1251.5,574.2 L1253.3,573.6 L1255.1,572.9 L1256.9,572.3 L1258.8,571.8 L1260.6,571.4 L1262.5,570.9 L1264.4,570.5 L1266.2,570.1 L1268.1,569.7 L1269.9,569.4 L1271.8,569.1 L1273.7,568.9 L1275.6,568.7 L1277.5,568.6 L1279.4,568.6 L1281.3,568.5 L1283.2,568.6 L1285.1,568.8 L1287.0,569.0 L1288.9,569.0 L1290.8,568.4 L1292.7,568.3 L1294.6,568.6 L1296.6,568.9 L1298.5,569.4 L1300.5,569.9 L1302.5,570.6 L1304.4,571.3 L1306.4,572.0 L1308.4,572.8 L1310.4,573.6 L1312.4,574.5 L1314.4,575.4 L1316.4,576.4 L1318.5,577.4 L1320.5,578.4 L1322.5,579.8 L1324.6,581.1 L1326.7,582.5 L1328.7,584.0 L1330.8,585.4 L1332.8,586.8 L1334.9,588.3 L1337.0,589.8 L1339.1,591.2 L1341.2,593.0 L1343.3,594.9 L1345.4,596.7 L1347.5,598.1 L1349.5,599.6 L1351.6,601.0 L1353.7,602.5 L1355.7,604.0 L1357.8,605.5 L1359.9,607.1 L1362.0,608.8 L1364.1,610.5 L1366.2,612.3 L1368.3,613.8 L1370.3,615.3 L1372.4,616.9 L1374.5,618.7 L1376.6,620.5 L1378.8,622.4 L1380.9,624.5 L1383.0,626.6 L1385.2,628.8 L1387.4,631.1 L1389.5,633.5 L1391.7,636.0 L1393.9,638.4 L1396.1,640.8 L1398.3,643.3 L1400.4,645.9 L1402.6,648.5 L1404.9,651.2 L1407.1,653.9 L1409.3,656.7 L1411.5,659.5 L1413.7,662.3 L1416.0,665.2 L1418.2,668.1 L1420.4,670.8 L1422.6,673.3 L1424.8,676.0 L1427.0,679.0 L1429.3,681.9 L1431.5,684.8 L1433.7,687.8 L1436.0,690.7 L1438.2,693.6 L1440.4,696.6 L1442.7,699.9 L1445.0,703.6 L1447.3,706.9 L1449.6,709.8 L1451.8,712.8 L1454.0,715.8 L1456.3,718.8 L1458.5,721.7 L1460.8,724.7 L1463.0,727.7 L1465.2,730.7 L1467.5,733.7 L1469.8,737.0 L1472.0,740.3 L1474.3,743.7 L1476.6,747.1 L1478.9,750.5 L1481.2,754.0 L1483.5,757.4 L1485.8,760.8 L1488.1,764.2 L1490.3,767.6 L1492.6,771.0 L1494.9,774.4 L1497.2,777.9 L1499.5,781.3 L1501.8,784.8 L1504.1,788.4 L1506.4,791.9 L1508.7,795.5 L1511.0,799.0 L1513.3,802.6 L1515.7,806.4 L1518.0,810.4 L1520.4,814.2 L1522.7,817.9 L1525.0,821.6 L1527.3,825.3 L1529.7,829.1 L1532.0,832.9 L1534.3,836.7 L1536.7,840.6 L1539.0,844.4 L1541.3,848.3 L1543.7,852.1 L1546.0,855.9 L1548.3,859.7 L1550.7,863.5 L1553.0,867.3 L1555.3,871.1 L1557.7,874.8 L1560.0,878.5 L1562.3,882.2 L1564.6,885.5 L1566.8,888.4 L1569.1,891.6 L1571.4,895.1 L1573.7,898.6 L1576.0,902.0 L1578.3,905.4 L1580.5,908.8 L1582.8,912.1 L1585.1,915.3 L1587.4,918.6 L1589.6,921.7 L1591.9,924.8 L1594.1,927.9 L1596.4,931.0 L1598.6,934.0 L1600.9,937.1 L1603.1,940.1 L1605.4,943.2 L1607.6,946.4 L1609.9,949.8 L1612.2,953.4 L1614.5,956.9 L1616.8,960.0 L1619.0,962.7 L1621.3,966.1 L1623.7,970.5 L1626.0,974.1 L1628.2,977.0 L1630.5,980.0 L1632.7,983.0 L1635.0,986.1 L1637.2,989.1 L1639.5,992.2 L1641.7,995.2 L1644.0,998.3 L1646.2,1001.4 L1648.5,1004.4 L1650.7,1007.5 L1653.0,1010.6 L1655.2,1013.7 L1657.5,1016.7 L1659.7,1019.8 L1662.0,1022.9 L1664.2,1026.0 L1666.5,1029.0 L1668.7,1032.1 L1671.0,1035.1 L1673.2,1038.2 L1675.5,1041.2 L1677.7,1044.3 L1680.0,1047.3 L1682.2,1050.4 L1684.4,1053.4 L1686.7,1056.4 L1688.9,1058.7 L1690.9,1060.3 L1693.1,1062.6 L1695.3,1065.5 L1697.6,1068.5 L1699.8,1071.4 L1702.0,1074.4 L1704.3,1077.3 L1706.5,1080.2 L1708.7,1083.1 L1711.0,1085.9 L1713.2,1088.6 L1715.4,1091.3 L1717.6,1094.0 L1719.8,1096.7 L1722.0,1099.4 L1724.2,1102.0 L1726.4,1104.6 L1728.6,1107.3 L1730.8,1109.9 L1733.0,1112.5 L1735.2,1115.1 L1737.4,1117.7 L1739.6,1120.3 L1741.8,1123.1 L1744.1,1126.0 L1746.3,1128.9 L1748.5,1131.6 L1750.7,1133.9 L1752.8,1136.1 L1755.0,1138.5 L1757.2,1141.0 L1759.3,1143.4 L1761.5,1145.9 L1763.7,1148.3 L1765.9,1150.8 L1768.1,1153.2 L1770.2,1155.6 L1772.4,1158.0 L1774.6,1160.4 L1776.8,1162.8 L1778.9,1165.2 L1781.1,1167.6 L1783.3,1169.9 L1785.4,1171.9 L1787.5,1173.3 L1789.6,1175.2 L1791.7,1177.4 L1793.9,1179.5 L1796.0,1181.6 L1798.2,1183.7 L1800.3,1185.8 L1802.4,1187.9 L1804.6,1190.0 L1806.7,1192.0 L1808.8,1194.0 L1811.0,1196.0 L1813.1,1197.9 L1815.2,1200.0 L1817.4,1202.1 L1819.5,1204.1 L1821.6,1206.0 L1823.7,1207.9 L1825.9,1209.8 L1828.0,1211.7 L1830.1,1213.5 L1832.2,1215.3 L1834.3,1217.2 L1836.5,1219.6 L1838.7,1221.9 L1840.8,1224.1 L1843.0,1226.4 L1845.1,1228.6 L1847.3,1230.7 L1849.4,1232.9 L1851.6,1234.9 L1853.7,1237.0 L1855.8,1238.9 L1857.9,1240.9 L1860.1,1242.8 L1862.2,1244.7 L1864.3,1246.5 L1866.4,1248.3 L1868.6,1250.7 L1870.8,1253.8 L1873.0,1256.0 L1875.1,1257.7 L1877.2,1259.6 L1879.3,1261.4 L1881.4,1263.1 L1883.5,1264.7 L1885.5,1265.9 L1887.5,1266.8 L1889.6,1268.0 L1891.6,1269.5 L1893.7,1271.0 L1895.8,1272.5 L1897.8,1274.0 L1899.9,1275.4 L1902.0,1276.9 L1904.1,1278.4 L1906.1,1279.8 L1908.2,1281.3 L1910.3,1282.8 L1912.3,1284.3 L1914.4,1285.8 L1916.5,1287.3 L1918.6,1288.9 L1920.6,1290.4 L1922.7,1292.0 L1924.8,1293.6 L1926.9,1295.2 L1929.0,1296.7 L1931.0,1298.1 L1933.1,1299.6"/>
<path stroke="#0066e0" stroke-width="13.6" transform="matrix(1.1553 -0.1303 -0.1303 1.1094 0 0)" d="M360.3,692.8 L362.3,693.4 L364.3,694.0 L366.2,694.6 L368.2,695.3 L370.2,695.9 L372.2,696.5 L374.2,697.2 L376.1,697.8 L378.0,697.8 L379.9,697.2 L381.8,697.2 L383.7,697.8 L385.7,698.5 L387.7,699.1 L389.7,699.8 L391.7,700.4 L393.6,701.0 L395.7,702.3 L397.8,704.2 L399.8,705.4 L401.8,706.1 L403.8,706.7 L405.8,707.3 L407.7,708.0 L409.7,708.6 L411.7,709.3 L413.7,709.9 L415.7,710.6 L417.6,711.2 L419.6,711.8 L421.6,712.5 L423.6,713.1 L425.5,713.8 L427.5,714.4 L429.5,715.0 L431.5,715.6 L433.4,716.0 L435.3,716.2 L437.2,716.0 L439.0,715.4 L440.9,715.2 L442.9,715.7 L444.9,716.8 L447.0,718.3 L449.1,719.7 L451.1,720.9 L453.1,721.8 L455.1,722.6 L457.1,723.2 L459.0,723.9 L461.0,724.5 L463.0,725.1 L465.0,725.9 L467.0,726.9 L469.0,727.7 L471.0,728.4 L473.0,729.0 L474.9,729.6 L476.9,730.2 L478.9,730.8 L480.8,731.4 L482.8,732.0 L484.8,732.6 L486.8,733.2 L488.7,733.8 L490.7,734.4 L492.7,735.0 L494.6,735.6 L496.6,736.2 L498.6,736.8 L500.6,737.4 L502.5,738.0 L504.5,738.6 L506.5,739.2 L508.4,739.7 L510.4,740.3 L512.3,740.5 L514.2,740.4 L516.2,740.6 L518.1,741.2 L520.1,742.1 L522.2,743.5 L524.3,745.3 L526.4,746.7 L528.3,747.0 L530.1,746.3 L532.0,745.8 L533.9,745.7 L535.8,746.1 L537.8,746.6 L539.7,747.1 L541.7,747.7 L543.7,748.2 L545.6,748.7 L547.6,749.2 L549.6,749.7 L551.5,750.2 L553.5,750.7 L555.4,751.2 L557.4,751.7 L559.4,752.2 L561.3,752.7 L563.3,753.2 L565.2,753.7 L567.2,754.1 L569.1,754.6 L571.1,755.1 L573.1,756.0 L575.2,757.3 L577.2,758.2 L579.1,758.7 L581.1,759.1 L583.0,759.6 L585.0,760.0 L586.9,760.4 L588.9,760.8 L590.8,761.3 L592.8,761.7 L594.7,762.1 L596.7,762.5 L598.6,762.9 L600.6,763.3 L602.5,763.7 L604.5,764.0 L606.5,764.7 L608.5,765.6 L610.5,766.3 L612.4,766.7 L614.3,767.0 L616.3,767.4 L618.2,767.7 L620.2,768.1 L622.1,768.4 L624.1,768.7 L626.0,769.1 L627.9,769.4 L629.9,769.7 L631.8,770.0 L633.8,770.3 L635.7,770.6 L637.6,770.9 L639.6,771.2 L641.5,771.5 L643.4,771.8 L645.4,772.1 L647.3,772.3 L649.3,772.6 L651.2,772.9 L653.1,773.1 L655.1,773.4 L657.0,773.6 L658.9,773.8 L660.8,774.1 L662.8,774.3 L664.7,774.5 L666.6,774.8 L668.6,775.0 L670.5,775.2 L672.4,775.5 L674.4,775.7 L676.3,775.9 L678.2,776.1 L680.1,776.3 L682.1,776.4 L684.0,776.6 L685.9,776.8 L687.8,777.0 L689.8,777.2 L691.7,777.3 L693.6,777.5 L695.5,777.6 L697.4,777.8 L699.4,777.9 L701.3,778.1 L703.2,778.2 L705.1,777.8 L706.9,776.9 L708.7,776.5 L710.6,776.6 L712.6,776.7 L714.5,776.9 L716.4,777.2 L718.4,777.7 L720.4,778.5 L722.4,779.7 L724.4,780.7 L726.4,781.1 L728.2,780.6 L730.0,779.7 L731.8,778.8 L733.7,778.2 L735.5,777.9 L737.4,777.8 L739.3,777.9 L741.3,777.9 L743.3,778.8 L745.4,780.7 L747.4,781.6 L749.3,781.7 L751.2,781.7 L753.1,781.7 L755.0,781.7 L756.9,781.7 L758.8,781.4 L760.6,780.8 L762.5,780.5 L764.4,780.5 L766.3,780.5 L768.2,780.5 L770.1,780.5 L772.0,780.0 L773.8,779.1 L775.6,778.6 L777.5,778.5 L779.4,778.5 L781.3,778.4 L783.2,778.4 L785.1,778.3 L787.0,778.3 L788.9,778.2 L790.8,778.2 L792.7,778.1 L794.6,778.0 L796.5,777.9 L798.4,777.9 L800.3,777.8 L802.2,777.7 L804.1,777.6 L805.9,777.3 L807.8,776.8 L809.7,776.6 L811.5,776.4 L813.4,776.3 L815.3,776.2 L817.2,776.1 L819.1,775.9 L821.0,775.8 L822.9,775.6 L824.8,775.4 L826.6,775.0 L828.4,774.2 L830.2,773.4 L832.1,773.2 L834.1,773.7 L836.0,774.2 L837.9,774.2 L839.8,774.0 L841.7,773.8 L843.6,773.6 L845.5,773.4 L847.4,773.2 L849.2,772.9 L851.1,772.7 L853.0,772.2 L854.8,771.3 L856.6,770.8 L858.5,770.5 L860.4,770.2 L862.2,770.0 L864.1,769.7 L866.0,769.4 L867.8,769.1 L869.7,768.7 L871.6,768.4 L873.4,768.1 L875.3,767.7 L877.2,767.4 L879.0,767.2 L880.9,767.1 L882.9,767.3 L884.8,767.3 L886.6,766.9 L888.4,766.0 L890.2,765.1 L892.1,764.4 L893.9,763.8 L895.8,763.4 L897.6,762.9 L899.5,763.0 L901.5,763.5 L903.4,763.5 L905.2,763.0 L907.1,762.5 L908.9,762.0 L910.8,761.5 L912.6,761.0 L914.5,760.4 L916.3,759.9 L918.2,759.3 L920.0,758.8 L921.8,758.2 L923.7,757.6 L925.5,757.0 L927.3,756.4 L929.2,755.7 L931.0,755.1 L932.8,754.4 L934.7,753.8 L936.5,753.1 L938.3,752.2 L940.1,750.9 L941.8,749.9 L943.7,749.2 L945.5,748.5 L947.3,747.7 L949.1,747.0 L950.9,746.2 L952.8,745.4 L954.6,744.6 L956.4,743.8 L958.2,743.0 L960.0,742.2 L961.8,741.3 L963.6,740.5 L965.4,739.6 L967.2,738.7 L969.0,737.8 L970.8,736.9 L972.6,736.0 L974.4,735.0 L976.2,734.1 L978.0,733.1 L979.8,732.1 L981.6,731.1 L983.4,730.1 L985.2,729.1 L987.0,728.1 L988.8,727.0 L990.6,725.9 L992.4,725.0 L994.2,724.2 L995.9,723.1 L997.7,721.7 L999.4,720.4 L1001.2,719.2 L1003.0,718.1 L1004.8,717.2 L1006.6,716.2 L1008.4,715.0 L1010.1,713.8 L1011.9,712.6 L1013.7,711.3 L1015.4,710.0 L1017.2,708.7 L1018.9,707.4 L1020.7,706.1 L1022.4,704.8 L1024.2,703.2 L1025.9,701.3 L1027.6,699.7 L1029.3,698.4 L1031.1,697.0 L1032.8,695.6 L1034.6,694.2 L1036.3,692.7 L1038.1,691.3 L1039.8,689.9 L1041.5,688.4 L1043.3,687.0 L1045.0,685.5 L1046.8,684.1 L1048.5,682.8 L1050.3,681.5 L1052.0,680.3 L1053.8,679.0 L1055.6,677.7 L1057.3,676.4 L1059.1,675.0 L1060.8,673.6 L1062.6,672.2 L1064.3,670.9 L1066.1,669.6 L1067.8,668.2 L1069.6,667.0 L1071.4,665.8 L1073.1,664.7 L1074.9,663.7 L1076.7,662.6 L1078.4,661.0 L1080.2,659.4 L1081.9,657.8 L1083.6,656.3 L1085.4,655.0 L1087.1,653.6 L1088.9,652.3 L1090.6,651.0 L1092.4,649.7 L1094.1,648.3 L1095.9,647.3 L1097.8,646.7 L1099.6,645.7 L1101.3,644.4 L1103.1,643.1 L1104.8,641.8 L1106.6,640.5 L1108.3,639.2 L1110.1,637.9 L1111.8,636.4 L1113.6,634.8 L1115.2,632.7 L1116.8,630.1 L1118.5,628.0 L1120.2,626.3 L1121.9,624.5 L1123.6,622.4 L1125.2,620.1 L1126.9,618.1 L1128.7,616.8 L1130.5,616.0 L1132.3,615.0 L1134.1,614.0 L1135.9,613.1 L1137.6,611.9 L1139.4,610.3 L1141.1,608.8 L1142.8,607.3 L1144.6,605.9 L1146.3,604.4 L1148.1,602.9 L1149.8,601.5 L1151.5,600.0 L1153.3,598.6 L1155.0,597.1 L1156.8,595.7 L1158.5,594.3 L1160.3,592.9 L1162.0,591.5 L1163.8,590.2 L1165.5,588.8 L1167.3,587.5 L1169.0,586.1 L1170.8,584.8 L1172.5,583.5 L1174.3,582.2 L1176.0,580.9 L1177.9,580.1 L1179.7,579.8 L1181.5,579.1 L1183.3,577.8 L1185.1,576.6 L1186.8,575.4 L1188.6,574.2 L1190.4,573.0 L1192.1,571.8 L1193.9,570.6 L1195.7,569.5 L1197.5,568.4 L1199.2,567.2 L1201.0,566.1 L1202.8,565.1 L1204.6,564.0 L1206.4,563.0 L1208.2,561.9 L1210.0,560.9 L1211.8,559.9 L1213.6,559.2 L1215.4,558.8 L1217.3,558.4 L1219.1,557.8 L1221.0,557.3 L1222.8,556.7 L1224.7,556.2 L1226.5,555.7 L1228.4,555.2 L1230.2,554.4 L1232.0,553.3 L1233.7,552.3 L1235.6,552.1 L1237.6,552.5 L1239.5,552.7 L1241.4,552.6 L1243.3,552.3 L1245.1,552.1 L1247.0,551.5 L1248.8,550.6 L1250.6,550.1 L1252.5,549.9 L1254.4,549.8 L1256.3,549.8 L1258.2,549.7 L1260.1,549.7 L1262.0,549.8 L1263.9,549.8 L1265.8,549.9 L1267.8,550.0 L1269.7,550.1 L1271.6,550.3 L1273.5,550.5 L1275.5,550.8 L1277.4,551.1 L1279.3,551.4 L1281.3,551.7 L1283.2,552.1 L1285.2,552.6 L1287.1,553.0 L1289.1,553.5 L1291.1,554.1 L1293.0,554.6 L1295.0,555.3 L1297.0,555.9 L1298.9,556.3 L1300.8,556.3 L1302.8,556.7 L1304.8,557.5 L1306.8,558.4 L1308.8,559.3 L1310.8,560.3 L1312.8,561.3 L1314.9,562.4 L1316.9,563.6 L1318.9,564.8 L1321.0,566.0 L1323.0,567.3 L1325.1,568.6 L1327.1,570.0 L1329.2,571.4 L1331.3,572.9 L1333.4,574.5 L1335.4,576.0 L1337.5,577.7 L1339.6,579.3 L1341.7,581.1 L1343.8,582.8 L1346.0,584.9 L1348.1,587.1 L1350.3,589.2 L1352.4,591.1 L1354.5,592.9 L1356.6,594.8 L1358.7,596.8 L1360.9,599.1 L1363.1,601.6 L1365.3,604.1 L1367.4,606.3 L1369.5,608.3 L1371.7,610.4 L1373.8,612.5 L1376.0,614.7 L1378.1,616.9 L1380.3,619.2 L1382.5,621.5 L1384.6,623.9 L1386.8,626.3 L1389.0,628.8 L1391.2,631.3 L1393.4,633.9 L1395.6,636.5 L1397.8,639.0 L1400.0,641.6 L1402.2,644.3 L1404.4,647.0 L1406.6,649.7 L1408.8,652.4 L1411.0,655.2 L1413.2,658.0 L1415.5,660.8 L1417.7,663.7 L1419.9,666.6 L1422.1,669.5 L1424.4,672.4 L1426.6,675.3 L1428.8,678.2 L1431.1,681.1 L1433.3,684.0 L1435.5,687.0 L1437.8,689.9 L1440.0,692.9 L1442.3,695.9 L1444.5,698.8 L1446.7,701.8 L1449.0,704.8 L1451.2,707.7 L1453.5,710.7 L1455.7,713.7 L1457.9,716.7 L1460.2,719.7 L1462.4,722.7 L1464.7,725.7 L1466.9,728.7 L1469.2,732.0 L1471.5,735.4 L1473.8,738.7 L1476.0,741.9 L1478.3,745.0 L1480.5,748.1 L1482.8,751.5 L1485.1,755.1 L1487.5,759.1 L1489.9,763.3 L1492.2,767.1 L1494.5,770.6 L1496.8,774.0 L1499.1,777.5 L1501.4,780.9 L1503.7,784.4 L1506.0,787.9 L1508.3,791.4 L1510.6,794.9 L1512.9,798.4 L1515.2,802.0 L1517.5,805.5 L1519.8,809.1 L1522.1,812.7 L1524.4,816.3 L1526.7,820.0 L1529.0,823.6 L1531.3,827.0 L1533.6,830.1 L1535.9,833.5 L1538.2,837.2 L1540.5,841.0 L1542.8,844.7 L1545.2,848.4 L1547.5,852.1 L1549.8,855.8 L1552.1,859.5 L1554.5,863.2 L1556.8,866.9 L1559.1,870.6 L1561.4,874.2 L1563.7,877.8 L1566.0,881.3 L1568.3,884.9 L1570.6,888.4 L1572.9,891.9 L1575.2,895.4 L1577.5,898.9 L1579.8,902.4 L1582.1,905.8 L1584.4,909.1 L1586.7,912.5 L1588.9,915.7 L1591.2,919.0 L1593.5,922.4 L1595.8,926.1 L1598.1,929.5 L1600.4,932.6 L1602.6,935.8 L1604.9,938.9 L1607.1,942.0 L1609.4,945.1 L1611.6,948.1 L1613.9,951.2 L1616.1,954.2 L1618.4,957.2 L1620.6,960.3 L1622.9,963.3 L1625.1,966.3 L1627.4,969.4 L1629.6,972.4 L1631.9,975.4 L1634.1,978.4 L1636.3,981.5 L1638.6,984.5 L1640.8,987.5 L1643.1,990.4 L1645.3,993.4 L1647.5,996.4 L1649.8,999.3 L1652.0,1002.3 L1654.3,1005.2 L1656.4,1007.4 L1658.5,1008.8 L1660.6,1010.9 L1662.8,1013.8 L1665.1,1016.7 L1667.3,1019.6 L1669.5,1022.4 L1671.8,1025.3 L1674.0,1028.2 L1676.2,1031.1 L1678.5,1034.0 L1680.7,1036.9 L1682.9,1039.7 L1685.1,1042.6 L1687.4,1045.4 L1689.6,1048.3 L1691.8,1051.1 L1694.0,1053.9 L1696.3,1057.3 L1698.7,1061.3 L1701.0,1064.8 L1703.2,1067.6 L1705.4,1070.3 L1707.6,1073.1 L1709.8,1075.9 L1712.0,1078.0 L1714.1,1079.7 L1716.2,1081.8 L1718.4,1084.5 L1720.6,1087.1 L1722.8,1089.8 L1725.0,1092.4 L1727.2,1095.0 L1729.4,1097.6 L1731.6,1100.1 L1733.8,1102.7 L1736.0,1105.3 L1738.2,1107.9 L1740.4,1110.6 L1742.6,1113.2 L1744.8,1115.8 L1747.0,1118.4 L1749.2,1121.0 L1751.4,1123.5 L1753.6,1126.0 L1755.8,1128.6 L1758.0,1131.1 L1760.1,1133.6 L1762.3,1136.0 L1764.5,1138.5 L1766.7,1141.0 L1768.9,1143.4 L1771.0,1145.9 L1773.3,1148.5 L1775.5,1151.5 L1777.7,1154.1 L1779.9,1156.5 L1782.0,1158.9 L1784.2,1161.2 L1786.4,1163.6 L1788.5,1165.9 L1790.7,1168.1 L1792.8,1170.3 L1795.0,1172.4 L1797.1,1174.6 L1799.3,1176.7 L1801.4,1178.8 L1803.6,1180.8 L1805.7,1182.8 L1807.8,1184.5 L1809.9,1186.2 L1812.0,1188.3 L1814.2,1190.7 L1816.4,1193.2 L1818.6,1195.8 L1820.8,1198.6 L1823.0,1201.0 L1825.1,1203.0 L1827.2,1204.9 L1829.3,1206.9 L1831.5,1208.8 L1833.6,1210.8 L1835.7,1212.9 L1837.9,1214.9 L1840.0,1217.0 L1842.1,1219.0 L1844.3,1221.0 L1846.4,1223.0 L1848.5,1224.9 L1850.6,1226.9 L1852.8,1228.8 L1854.9,1230.7 L1857.0,1232.5 L1859.1,1234.4 L1861.2,1236.2 L1863.3,1238.0 L1865.4,1239.8 L1867.5,1241.6 L1869.6,1243.0 L1871.6,1244.0 L1873.7,1245.3 L1875.8,1247.0 L1877.8,1248.6 L1879.9,1250.2 L1882.0,1251.9 L1884.1,1253.6 L1886.2,1255.3 L1888.3,1256.8 L1890.4,1258.2 L1892.4,1259.4 L1894.4,1260.4 L1896.4,1261.4 L1898.5,1262.7 L1900.6,1264.6 L1902.7,1266.6 L1904.9,1268.5 L1906.9,1270.2 L1909.0,1271.7 L1911.1,1273.1 L1913.1,1274.5 L1915.2,1275.7 L1917.2,1277.0 L1919.3,1278.2 L1921.3,1279.4 L1923.3,1280.6 L1925.4,1281.7 L1927.4,1282.6 L1929.4,1283.5 L1931.4,1284.3"/>
<path stroke="#ba6ee0" stroke-width="13.6" transform="matrix(1.1553 -0.1303 -0.1303 1.1094 0 0)" d="M357.0,663.2 L359.0,664.0 L361.0,664.9 L363.0,665.7 L365.0,666.5 L367.0,667.3 L369.0,668.2 L371.0,669.0 L373.0,669.8 L375.0,670.6 L377.0,671.4 L378.9,672.2 L380.9,673.0 L382.9,673.8 L384.9,674.5 L386.9,675.3 L388.9,676.1 L390.9,676.9 L392.9,677.7 L394.9,678.4 L396.9,679.2 L398.9,680.0 L400.9,680.7 L402.8,681.5 L404.8,682.2 L406.8,683.1 L408.9,684.2 L410.9,685.1 L412.9,685.8 L414.8,686.6 L416.8,687.3 L418.8,688.0 L420.8,688.7 L422.8,689.5 L424.8,690.2 L426.8,690.9 L428.7,691.6 L430.7,692.3 L432.7,693.0 L434.7,693.7 L436.7,694.4 L438.7,695.1 L440.6,695.8 L442.6,696.4 L444.6,697.1 L446.6,697.8 L448.6,698.5 L450.5,699.1 L452.5,699.8 L454.5,700.5 L456.5,701.1 L458.5,701.8 L460.4,702.4 L462.4,703.1 L464.4,703.7 L466.4,704.5 L468.4,705.4 L470.4,706.1 L472.3,706.3 L474.2,706.0 L476.0,705.4 L477.8,704.8 L479.8,705.1 L481.8,706.4 L484.0,708.4 L486.1,710.1 L488.1,711.4 L490.1,712.2 L492.1,712.9 L494.1,713.5 L496.0,714.1 L498.0,714.7 L500.0,715.2 L501.9,715.8 L503.9,716.4 L505.9,716.9 L507.8,717.5 L509.7,717.5 L511.6,717.1 L513.5,717.1 L515.5,717.6 L517.4,718.2 L519.4,718.7 L521.4,719.2 L523.3,719.8 L525.3,720.3 L527.3,720.8 L529.2,721.3 L531.2,721.8 L533.1,722.4 L535.1,722.9 L537.1,723.5 L539.1,724.2 L541.0,724.9 L543.0,725.5 L545.0,726.0 L546.9,726.4 L548.9,726.6 L550.8,726.9 L552.7,727.3 L554.7,727.7 L556.6,728.1 L558.6,728.6 L560.6,729.0 L562.5,729.5 L564.5,729.9 L566.4,730.4 L568.4,730.8 L570.3,731.2 L572.3,731.7 L574.2,732.1 L576.2,732.5 L578.1,732.9 L580.1,733.3 L582.0,733.7 L584.0,734.5 L586.0,735.5 L588.0,736.3 L590.0,736.7 L591.9,737.1 L593.9,737.4 L595.8,737.8 L597.8,738.2 L599.7,738.6 L601.7,738.9 L603.6,739.3 L605.5,739.6 L607.5,740.0 L609.4,740.3 L611.4,740.7 L613.3,741.0 L615.3,741.4 L617.2,741.7 L619.1,742.0 L621.1,742.5 L623.1,743.0 L625.0,743.5 L627.0,743.8 L628.9,744.1 L630.8,744.4 L632.8,744.7 L634.7,745.0 L636.6,745.3 L638.6,745.5 L640.5,745.8 L642.5,746.1 L644.4,746.4 L646.3,746.7 L648.3,747.0 L650.2,747.6 L652.2,748.4 L654.2,749.0 L656.1,748.9 L657.9,748.4 L659.8,748.2 L661.7,748.3 L663.7,748.5 L665.6,748.8 L667.5,749.0 L669.5,749.2 L671.4,749.4 L673.3,749.6 L675.2,749.7 L677.1,749.8 L679.1,749.9 L681.0,750.1 L682.9,750.3 L684.8,750.5 L686.8,750.7 L688.7,750.8 L690.6,751.0 L692.5,751.2 L694.5,751.4 L696.4,751.8 L698.4,752.4 L700.3,752.8 L702.3,753.0 L704.2,752.9 L706.0,752.7 L707.9,752.6 L709.8,752.6 L711.7,752.7 L713.7,752.8 L715.6,752.9 L717.5,753.0 L719.4,753.1 L721.3,753.2 L723.2,753.3 L725.2,753.4 L727.1,753.5 L729.0,753.5 L730.9,753.6 L732.8,753.7 L734.7,753.7 L736.6,753.8 L738.5,753.8 L740.4,753.9 L742.4,753.9 L744.3,754.0 L746.2,754.0 L748.1,754.0 L750.0,754.1 L751.9,754.1 L753.8,754.1 L755.7,754.2 L757.6,754.5 L759.6,754.6 L761.5,754.6 L763.4,754.6 L765.3,754.6 L767.2,754.6 L769.1,754.5 L771.0,754.5 L772.9,754.5 L774.8,754.4 L776.7,754.5 L778.6,754.5 L780.5,754.5 L782.4,754.5 L784.3,754.5 L786.2,754.7 L788.2,755.1 L790.2,755.6 L792.1,756.1 L794.0,756.2 L795.9,755.8 L797.7,755.1 L799.5,754.4 L801.4,753.9 L803.3,753.6 L805.1,753.4 L807.0,753.3 L808.9,753.2 L810.8,753.1 L812.7,753.1 L814.6,753.0 L816.5,752.9 L818.4,752.7 L820.3,752.6 L822.2,752.4 L824.0,752.2 L825.9,752.1 L827.8,751.9 L829.7,751.7 L831.6,751.5 L833.5,751.3 L835.3,751.1 L837.2,750.8 L839.1,750.6 L841.0,750.4 L842.9,750.2 L844.7,749.6 L846.5,748.9 L848.4,748.5 L850.3,748.5 L852.2,748.6 L854.1,748.8 L856.0,748.7 L857.9,748.2 L859.7,747.4 L861.5,746.7 L863.3,746.1 L865.2,745.6 L867.1,745.3 L868.9,744.5 L870.6,743.4 L872.5,742.6 L874.3,742.2 L876.2,741.8 L878.0,741.4 L879.9,741.0 L881.8,740.6 L883.6,740.2 L885.5,739.8 L887.3,739.3 L889.3,739.5 L891.2,740.3 L893.2,740.4 L895.0,739.9 L896.9,739.4 L898.7,738.9 L900.6,738.4 L902.4,737.9 L904.2,737.4 L906.1,736.8 L907.9,736.3 L909.8,735.7 L911.6,735.2 L913.5,734.7 L915.3,734.3 L917.2,734.2 L919.1,734.1 L921.0,733.9 L922.8,733.2 L924.6,732.1 L926.4,730.9 L928.2,729.9 L930.0,729.1 L931.8,728.3 L933.6,727.6 L935.4,726.9 L937.3,726.2 L939.1,725.4 L940.9,724.7 L942.7,723.9 L944.5,723.1 L946.3,722.3 L948.2,721.5 L950.0,720.7 L951.8,719.9 L953.6,719.0 L955.4,718.2 L957.2,717.3 L959.0,716.4 L960.8,715.5 L962.6,714.6 L964.4,713.7 L966.2,712.8 L968.0,711.8 L969.8,710.6 L971.5,709.2 L973.3,708.1 L975.1,707.0 L976.9,706.0 L978.7,705.0 L980.5,704.0 L982.2,702.9 L984.0,701.8 L985.8,700.7 L987.6,699.6 L989.4,698.5 L991.1,697.4 L992.9,696.2 L994.7,695.1 L996.5,693.9 L998.2,692.7 L1000.0,691.5 L1001.8,690.2 L1003.5,689.0 L1005.3,687.7 L1007.0,686.5 L1008.8,685.2 L1010.6,683.9 L1012.3,682.6 L1014.1,681.2 L1015.8,679.9 L1017.6,678.6 L1019.3,677.2 L1021.1,675.8 L1022.8,674.6 L1024.6,673.7 L1026.4,672.5 L1028.2,671.1 L1029.9,669.6 L1031.6,668.2 L1033.4,666.7 L1035.1,665.3 L1036.9,663.8 L1038.6,662.3 L1040.3,660.9 L1042.1,659.4 L1043.8,658.0 L1045.6,656.6 L1047.3,655.2 L1049.1,653.8 L1050.8,652.4 L1052.5,651.0 L1054.3,649.6 L1056.0,648.1 L1057.8,646.7 L1059.5,645.3 L1061.3,643.9 L1062.9,641.9 L1064.6,639.2 L1066.2,637.2 L1068.0,635.8 L1069.7,634.3 L1071.5,632.9 L1073.2,631.5 L1075.0,630.1 L1076.7,628.7 L1078.4,627.3 L1080.2,625.9 L1081.9,624.5 L1083.7,623.1 L1085.4,621.8 L1087.2,620.4 L1088.9,619.0 L1090.7,617.7 L1092.4,616.3 L1094.2,615.0 L1095.9,613.6 L1097.7,612.3 L1099.5,611.0 L1101.2,609.7 L1103.1,609.2 L1105.0,609.7 L1106.9,609.2 L1108.6,607.8 L1110.4,606.4 L1112.1,605.0 L1113.8,603.5 L1115.6,602.1 L1117.3,600.7 L1119.1,599.3 L1120.8,598.0 L1122.6,596.6 L1124.3,595.2 L1126.1,593.9 L1127.8,592.5 L1129.6,591.2 L1131.3,589.9 L1133.1,588.6 L1134.9,587.3 L1136.6,586.1 L1138.4,584.8 L1140.2,583.6 L1141.9,582.3 L1143.7,581.1 L1145.5,579.9 L1147.2,578.7 L1149.0,577.2 L1150.7,575.4 L1152.4,574.0 L1154.2,572.8 L1156.0,571.7 L1157.7,570.5 L1159.5,569.4 L1161.3,568.3 L1163.1,567.2 L1164.8,566.1 L1166.6,565.0 L1168.4,564.0 L1170.2,562.9 L1172.0,561.9 L1173.8,560.9 L1175.6,559.8 L1177.4,558.8 L1179.1,557.9 L1181.0,556.9 L1182.8,556.1 L1184.6,555.2 L1186.4,554.4 L1188.2,553.5 L1190.0,552.7 L1191.8,551.9 L1193.6,551.1 L1195.4,550.3 L1197.2,549.5 L1199.1,548.8 L1200.9,548.0 L1202.7,547.3 L1204.6,546.8 L1206.4,546.6 L1208.3,546.2 L1210.1,545.5 L1212.0,544.9 L1213.8,544.3 L1215.6,543.7 L1217.5,543.2 L1219.3,542.7 L1221.0,541.0 L1222.6,538.3 L1224.4,536.8 L1226.2,536.3 L1228.1,535.9 L1229.9,535.4 L1231.8,535.0 L1233.7,535.0 L1235.6,535.4 L1237.6,535.6 L1239.5,535.4 L1241.3,535.1 L1243.2,534.9 L1245.1,534.6 L1247.0,534.4 L1248.8,534.3 L1250.7,534.1 L1252.6,534.0 L1254.5,534.0 L1256.4,533.9 L1258.3,534.0 L1260.3,534.1 L1262.2,534.5 L1264.2,535.2 L1266.2,536.2 L1268.2,537.2 L1270.2,538.2 L1272.2,538.9 L1274.2,539.2 L1276.1,539.4 L1278.0,539.6 L1280.0,540.0 L1281.9,540.7 L1283.9,541.5 L1285.9,542.4 L1288.0,543.3 L1290.0,544.3 L1292.0,545.8 L1294.2,547.6 L1296.2,549.2 L1298.3,550.6 L1300.4,552.0 L1302.4,553.4 L1304.5,554.9 L1306.6,556.4 L1308.6,557.9 L1310.7,559.5 L1312.8,561.0 L1314.9,562.5 L1316.9,563.9 L1319.0,565.4 L1321.1,567.0 L1323.2,568.6 L1325.3,570.3 L1327.4,572.0 L1329.5,573.9 L1331.6,575.6 L1333.7,577.2 L1335.7,578.8 L1337.8,580.4 L1340.0,582.3 L1342.1,584.1 L1344.2,586.0 L1346.3,587.9 L1348.4,589.8 L1350.5,591.8 L1352.7,593.8 L1354.8,595.9 L1357.0,598.0 L1359.1,600.2 L1361.3,602.4 L1363.4,604.7 L1365.6,607.0 L1367.7,609.0 L1369.9,611.0 L1372.0,613.1 L1374.1,615.2 L1376.3,617.4 L1378.4,619.6 L1380.6,621.9 L1382.8,624.2 L1384.9,626.5 L1387.1,628.9 L1389.4,632.0 L1391.7,635.9 L1394.0,639.0 L1396.1,641.5 L1398.3,644.1 L1400.5,646.6 L1402.7,649.2 L1404.9,651.9 L1407.1,654.6 L1409.3,657.3 L1411.6,660.0 L1413.8,662.8 L1416.0,665.7 L1418.3,668.7 L1420.5,672.0 L1422.8,675.5 L1425.1,678.8 L1427.4,681.9 L1429.5,684.4 L1431.7,686.8 L1433.9,689.1 L1436.1,691.7 L1438.3,694.5 L1440.5,697.4 L1442.8,700.3 L1445.0,703.3 L1447.3,706.3 L1449.5,709.3 L1451.7,712.3 L1454.0,715.3 L1456.2,718.4 L1458.4,720.8 L1460.5,722.7 L1462.7,725.1 L1465.0,728.2 L1467.2,731.2 L1469.5,734.6 L1471.8,738.0 L1474.1,741.4 L1476.4,744.8 L1478.6,748.2 L1480.9,751.7 L1483.2,755.1 L1485.5,758.6 L1487.8,762.0 L1490.1,765.5 L1492.4,768.6 L1494.6,771.3 L1496.8,774.2 L1499.1,777.4 L1501.3,780.6 L1503.6,784.1 L1506.0,787.8 L1508.4,792.2 L1510.8,797.0 L1513.2,801.2 L1515.5,804.7 L1517.8,808.3 L1520.1,811.8 L1522.4,815.4 L1524.7,819.0 L1527.0,822.5 L1529.3,826.1 L1531.6,829.6 L1533.9,833.2 L1536.2,836.7 L1538.5,840.3 L1540.8,843.8 L1543.1,847.4 L1545.4,850.9 L1547.7,854.4 L1550.0,857.9 L1552.3,861.4 L1554.6,864.8 L1556.9,868.3 L1559.2,871.7 L1561.5,875.1 L1563.8,878.5 L1566.1,881.9 L1568.4,885.7 L1570.8,889.8 L1573.1,893.3 L1575.3,896.1 L1577.5,898.5 L1579.7,901.2 L1581.9,904.2 L1584.2,907.3 L1586.4,910.4 L1588.7,913.5 L1590.9,916.5 L1593.2,919.6 L1595.4,922.6 L1597.7,925.5 L1599.9,928.5 L1602.1,931.4 L1604.4,934.3 L1606.6,937.2 L1608.8,940.1 L1611.1,943.0 L1613.3,945.9 L1615.5,948.8 L1617.8,951.8 L1620.0,954.7 L1622.2,957.5 L1624.4,960.3 L1626.6,962.8 L1628.8,965.1 L1631.0,967.7 L1633.2,970.6 L1635.4,973.5 L1637.7,976.4 L1639.9,979.2 L1642.1,982.1 L1644.4,985.0 L1646.6,987.8 L1648.8,990.7 L1651.0,993.5 L1653.3,996.3 L1655.5,999.1 L1657.7,1002.0 L1660.0,1005.2 L1662.3,1009.0 L1664.6,1012.3 L1666.8,1015.1 L1669.0,1017.9 L1671.2,1020.6 L1673.4,1023.4 L1675.7,1026.2 L1677.9,1029.0 L1680.1,1031.7 L1682.3,1034.6 L1684.6,1037.5 L1686.8,1040.4 L1689.0,1043.1 L1691.2,1045.9 L1693.4,1048.6 L1695.6,1051.3 L1697.8,1054.0 L1700.1,1056.8 L1702.3,1059.5 L1704.5,1062.2 L1706.7,1064.9 L1708.9,1067.6 L1711.1,1070.3 L1713.3,1072.5 L1715.4,1074.3 L1717.5,1076.5 L1719.7,1079.2 L1721.9,1081.9 L1724.1,1084.5 L1726.3,1087.2 L1728.5,1089.8 L1730.7,1092.5 L1732.9,1095.1 L1735.2,1097.7 L1737.4,1100.4 L1739.6,1103.0 L1741.8,1105.7 L1744.0,1108.4 L1746.2,1111.1 L1748.4,1113.8 L1750.6,1116.4 L1752.8,1118.9 L1755.0,1121.3 L1757.1,1123.7 L1759.3,1126.2 L1761.5,1128.7 L1763.7,1131.1 L1765.9,1133.6 L1768.0,1136.1 L1770.2,1138.6 L1772.4,1141.1 L1774.6,1143.5 L1776.8,1146.0 L1778.9,1148.2 L1781.1,1150.2 L1783.2,1152.4 L1785.4,1154.7 L1787.6,1157.1 L1789.7,1159.6 L1791.9,1162.1 L1794.1,1164.6 L1796.3,1167.0 L1798.5,1169.5 L1800.6,1171.9 L1802.8,1174.3 L1805.0,1176.5 L1807.1,1178.7 L1809.3,1180.9 L1811.4,1183.0 L1813.6,1185.2 L1815.7,1187.3 L1817.8,1189.4 L1820.0,1191.4 L1822.1,1193.5 L1824.3,1195.6 L1826.4,1197.6 L1828.5,1199.6 L1830.7,1201.6 L1832.8,1203.6 L1834.9,1205.7 L1837.1,1207.7 L1839.2,1209.7 L1841.4,1212.3 L1843.6,1215.3 L1845.8,1217.7 L1847.9,1219.7 L1850.0,1221.5 L1852.1,1223.3 L1854.2,1224.9 L1856.3,1226.6 L1858.4,1228.5 L1860.6,1230.5 L1862.7,1232.5 L1864.8,1234.4 L1866.9,1236.2 L1869.0,1237.9 L1871.1,1239.6 L1873.2,1241.3 L1875.3,1243.0 L1877.4,1244.6 L1879.5,1246.2 L1881.6,1247.8 L1883.6,1249.3 L1885.7,1250.9 L1887.8,1252.4 L1889.9,1253.9 L1891.9,1255.3 L1894.0,1256.8 L1896.1,1258.2 L1898.1,1259.6 L1900.2,1261.0 L1902.3,1262.4 L1904.4,1264.1 L1906.5,1265.9 L1908.5,1267.4 L1910.6,1268.5 L1912.5,1269.1 L1914.5,1269.3 L1916.4,1269.8 L1918.4,1270.6 L1920.4,1271.6 L1922.4,1272.6 L1924.5,1273.6 L1926.5,1274.4 L1928.5,1275.2 L1930.4,1275.9"/>
</g>
<g fill="none" stroke-width="17.5" stroke-linecap="round">
<path stroke="#00a859" d="M1595,139.8 H1758.5"/>
<path stroke="#404040" d="M1595,237.5 H1758.5"/>
<path stroke="#ff2a2e" d="M1595,334.2 H1758.5"/>
<path stroke="#0066e0" d="M1595,431 H1758.5"/>
<path stroke="#ba6ee0" d="M1595,533.6 H1758.5"/>
</g>
<text transform="translate(185.85,293.60) scale(1.0421,1)" font-family="Liberation Sans" font-weight="700" font-size="73.68" fill="#000">60</text>
<text transform="translate(184.75,688.00) scale(1.0506,1)" font-family="Liberation Sans" font-weight="700" font-size="73.68" fill="#000">40</text>
<text transform="translate(184.80,1085.85) scale(1.0687,1)" font-family="Liberation Sans" font-weight="700" font-size="71.63" fill="#000">20</text>
<text transform="translate(240.10,1481.45) scale(1.1443,1)" font-family="Liberation Sans" font-weight="700" font-size="71.63" fill="#000">0</text>
<text transform="translate(273.85,1556.05) scale(0.9741,1)" font-family="Liberation Sans" font-weight="400" font-size="70.54" fill="#000" stroke="#000" stroke-width="2.4" stroke-linejoin="round">400</text>
<text transform="translate(703.85,1556.05) scale(0.9741,1)" font-family="Liberation Sans" font-weight="400" font-size="70.54" fill="#000" stroke="#000" stroke-width="2.4" stroke-linejoin="round">450</text>
<text transform="translate(1138.10,1556.05) scale(0.9535,1)" font-family="Liberation Sans" font-weight="400" font-size="70.54" fill="#000" stroke="#000" stroke-width="2.4" stroke-linejoin="round">500</text>
<text transform="translate(1567.55,1556.05) scale(0.9835,1)" font-family="Liberation Sans" font-weight="400" font-size="70.54" fill="#000" stroke="#000" stroke-width="2.4" stroke-linejoin="round">550</text>
<text transform="translate(2000.00,1556.05) scale(0.9644,1)" font-family="Liberation Sans" font-weight="400" font-size="70.54" fill="#000" stroke="#000" stroke-width="2.4" stroke-linejoin="round">600</text>
<text transform="translate(838.20,1653.60) scale(1.0040,1)" font-family="Liberation Sans" font-weight="700" font-size="83.30" fill="#000" stroke="#000" stroke-width="1.2" stroke-linejoin="round">Wavelength (nm)</text>
<text transform="translate(132.45,966.80) rotate(-90) scale(1.2676,1)" font-family="Liberation Sans" font-weight="400" font-size="81.12" fill="#000" stroke="#000" stroke-width="0.8" stroke-linejoin="round">α</text>
<text transform="translate(132.75,879.15) rotate(-90) scale(1.0010,1)" font-family="Liberation Sans" font-weight="700" font-size="92.13" fill="#000">(m</text>
<text transform="translate(111.65,775.00) rotate(-90) scale(0.8073,1)" font-family="Liberation Sans" font-weight="400" font-size="73.06" fill="#000">−</text>
<text transform="translate(104.40,739.00) rotate(-90) scale(0.8873,1)" font-family="Liberation Sans" font-weight="700" font-size="61.07" fill="#000">1</text>
<text transform="translate(132.75,703.05) rotate(-90) scale(0.8662,1)" font-family="Liberation Sans" font-weight="700" font-size="92.13" fill="#000">)</text>
<text transform="translate(1802.30,166.90) scale(1.0236,1)" font-family="Liberation Serif" font-weight="700" font-size="83.95" fill="#000">1:0</text>
<text transform="translate(1799.70,283.90) scale(0.9989,1)" font-family="Liberation Serif" font-weight="700" font-size="84.09" fill="#000">0.5:0.5</text>
<text transform="translate(1799.10,379.70) scale(1.0122,1)" font-family="Liberation Serif" font-weight="700" font-size="83.95" fill="#000">0.2:0.8</text>
<text transform="translate(1799.10,467.10) scale(1.0122,1)" font-family="Liberation Serif" font-weight="700" font-size="83.95" fill="#000">0.1:0.9</text>
<text transform="translate(1798.35,566.90) scale(0.9974,1)" font-family="Liberation Serif" font-weight="700" font-size="83.95" fill="#000">0:1</text>
</g>
</svg></body></html>
